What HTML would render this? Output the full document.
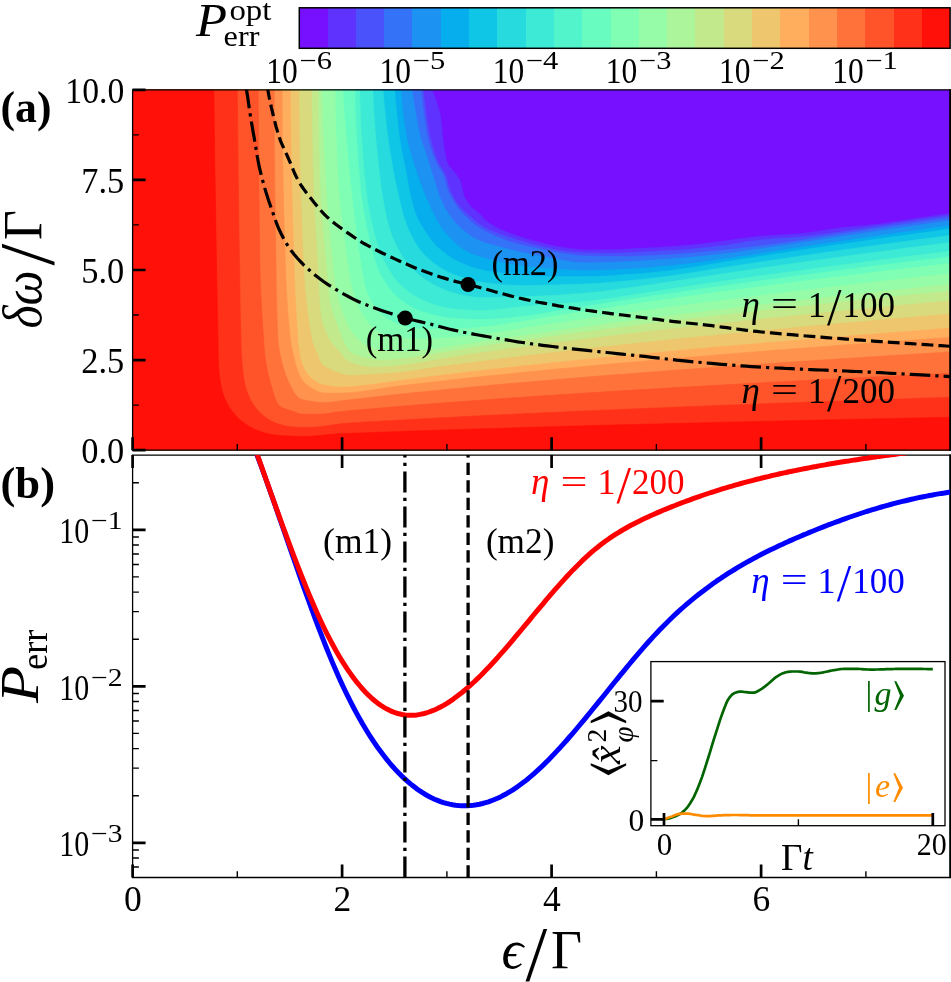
<!DOCTYPE html>
<html><head><meta charset="utf-8"><title>figure</title><style>html,body{margin:0;padding:0;background:#fff}svg{display:block}</style></head><body>
<svg width="951" height="982" viewBox="0 0 951 982" font-family="Liberation Serif, DejaVu Serif, serif">
<rect width="951" height="982" fill="#fff"/>
<defs><clipPath id="ca"><rect x="132.6" y="89.8" width="817.5" height="360.4"/></clipPath>
<clipPath id="cb"><rect x="132.6" y="455.1" width="817.5" height="422.4"/></clipPath></defs>
<g shape-rendering="crispEdges">
<rect x="299.30" y="7.8" width="28.80" height="40.5" fill="#7610ff"/>
<rect x="327.60" y="7.8" width="28.80" height="40.5" fill="#6032fe"/>
<rect x="355.89" y="7.8" width="28.80" height="40.5" fill="#4a53fb"/>
<rect x="384.19" y="7.8" width="28.80" height="40.5" fill="#3473f8"/>
<rect x="412.48" y="7.8" width="28.80" height="40.5" fill="#1c93f3"/>
<rect x="440.78" y="7.8" width="28.80" height="40.5" fill="#06aeed"/>
<rect x="469.07" y="7.8" width="28.80" height="40.5" fill="#10c6e6"/>
<rect x="497.37" y="7.8" width="28.80" height="40.5" fill="#27dade"/>
<rect x="525.67" y="7.8" width="28.80" height="40.5" fill="#3dead5"/>
<rect x="553.96" y="7.8" width="28.80" height="40.5" fill="#52f5cb"/>
<rect x="582.26" y="7.8" width="28.80" height="40.5" fill="#68fcc1"/>
<rect x="610.55" y="7.8" width="28.80" height="40.5" fill="#80ffb4"/>
<rect x="638.85" y="7.8" width="28.80" height="40.5" fill="#96fca7"/>
<rect x="667.14" y="7.8" width="28.80" height="40.5" fill="#acf59a"/>
<rect x="695.44" y="7.8" width="28.80" height="40.5" fill="#c2ea8c"/>
<rect x="723.73" y="7.8" width="28.80" height="40.5" fill="#d9da7d"/>
<rect x="752.03" y="7.8" width="28.80" height="40.5" fill="#eec66d"/>
<rect x="780.33" y="7.8" width="28.80" height="40.5" fill="#ffae5e"/>
<rect x="808.62" y="7.8" width="28.80" height="40.5" fill="#ff934d"/>
<rect x="836.92" y="7.8" width="28.80" height="40.5" fill="#ff733b"/>
<rect x="865.21" y="7.8" width="28.80" height="40.5" fill="#ff532a"/>
<rect x="893.51" y="7.8" width="28.80" height="40.5" fill="#ff3219"/>
<rect x="921.80" y="7.8" width="28.30" height="40.5" fill="#ff1008"/>
</g>
<rect x="299.3" y="7.8" width="650.8" height="40.5" fill="none" stroke="#000" stroke-width="1.5"/>
<text x="266.3" y="82.7" font-size="35.5" textLength="31.5" lengthAdjust="spacingAndGlyphs">10</text>
<text x="299.5" y="69.1" font-size="25.5" textLength="32.5" lengthAdjust="spacingAndGlyphs">−6</text>
<text x="379.5" y="82.7" font-size="35.5" textLength="31.5" lengthAdjust="spacingAndGlyphs">10</text>
<text x="412.7" y="69.1" font-size="25.5" textLength="32.5" lengthAdjust="spacingAndGlyphs">−5</text>
<text x="492.7" y="82.7" font-size="35.5" textLength="31.5" lengthAdjust="spacingAndGlyphs">10</text>
<text x="525.9" y="69.1" font-size="25.5" textLength="32.5" lengthAdjust="spacingAndGlyphs">−4</text>
<text x="605.8" y="82.7" font-size="35.5" textLength="31.5" lengthAdjust="spacingAndGlyphs">10</text>
<text x="639.0" y="69.1" font-size="25.5" textLength="32.5" lengthAdjust="spacingAndGlyphs">−3</text>
<text x="719.0" y="82.7" font-size="35.5" textLength="31.5" lengthAdjust="spacingAndGlyphs">10</text>
<text x="752.2" y="69.1" font-size="25.5" textLength="32.5" lengthAdjust="spacingAndGlyphs">−2</text>
<text x="832.2" y="82.7" font-size="35.5" textLength="31.5" lengthAdjust="spacingAndGlyphs">10</text>
<text x="865.4" y="69.1" font-size="25.5" textLength="32.5" lengthAdjust="spacingAndGlyphs">−1</text>
<text x="196" y="35.8" font-size="47" font-style="italic" textLength="31" lengthAdjust="spacingAndGlyphs">P</text>
<text x="229.4" y="20" font-size="29" textLength="42" lengthAdjust="spacingAndGlyphs">opt</text>
<text x="223.6" y="46.3" font-size="30" textLength="35.8" lengthAdjust="spacingAndGlyphs">err</text>
<g clip-path="url(#ca)">
<rect x="131.6" y="88.8" width="819.5" height="362.4" fill="#7610ff"/>
<polygon points="130.6,87.8 432.0,87.8 432.0,90.0 434.3,95.6 436.4,101.3 438.2,107.1 439.7,112.8 440.8,118.7 441.6,124.6 442.1,130.5 442.6,136.5 443.3,142.5 444.1,148.6 445.1,154.6 446.5,160.4 448.6,165.6 452.7,170.2 456.5,175.0 459.9,179.9 461.5,185.6 462.8,191.6 464.6,197.2 467.6,202.4 471.4,207.2 475.9,211.0 480.7,214.7 484.5,219.4 489.1,223.1 494.3,226.2 499.6,228.9 505.1,231.3 510.7,233.5 516.3,235.5 522.0,237.4 527.8,239.2 533.5,240.8 539.3,242.3 545.1,243.8 551.0,245.2 556.8,246.5 562.7,247.4 568.7,248.3 574.6,249.1 580.6,249.7 586.6,249.9 592.6,249.9 598.6,249.8 604.6,249.8 610.6,249.7 616.6,249.6 622.5,249.3 628.5,249.0 634.5,248.6 640.5,248.3 646.5,248.0 652.5,247.7 658.5,247.4 664.4,247.0 670.4,246.7 676.4,246.3 682.4,245.8 688.3,245.3 694.3,244.6 700.2,243.9 706.2,243.2 712.2,242.5 718.1,241.7 724.0,241.0 730.0,240.2 735.9,239.3 741.9,238.5 747.8,237.7 753.7,236.9 759.7,236.3 765.7,235.9 771.7,235.5 777.6,235.1 783.6,234.8 789.6,234.5 795.6,234.1 801.6,233.6 807.5,232.9 813.4,232.0 819.4,231.1 825.3,230.2 831.2,229.2 837.1,228.4 843.1,227.6 849.0,227.0 855.0,226.4 861.0,225.8 866.9,225.3 872.9,224.6 878.9,224.0 884.8,223.2 890.7,222.3 896.7,221.4 902.6,220.5 908.5,219.6 914.4,218.7 920.4,217.8 926.3,216.9 932.2,216.0 938.1,215.2 944.1,214.3 950.0,213.5 952.1,213.5 952.1,452.2 130.6,452.2" fill="#6032fe" stroke="#6032fe" stroke-width="0.6"/>
<polygon points="130.6,87.8 423.5,87.8 423.5,90.0 424.0,96.0 424.6,101.9 425.4,107.9 426.1,113.8 427.0,119.7 427.9,125.6 428.9,131.5 430.1,137.3 431.6,143.2 433.2,149.0 435.1,154.7 437.2,160.2 439.9,165.5 443.3,170.5 445.9,175.8 447.5,181.6 449.0,187.4 451.2,193.0 454.0,198.3 457.2,203.3 461.0,207.9 465.2,212.2 469.7,216.1 474.3,220.0 479.0,223.8 483.9,227.0 489.2,229.7 494.8,232.0 500.4,234.2 506.0,236.2 511.7,238.1 517.4,239.9 523.1,241.6 528.9,243.2 534.7,244.7 540.5,246.1 546.3,247.6 552.1,249.0 558.0,250.2 563.9,251.0 569.8,251.7 575.8,252.3 581.7,252.7 587.7,252.9 593.7,253.0 599.7,253.1 605.6,253.2 611.6,253.2 617.6,253.1 623.6,252.9 629.5,252.5 635.5,252.2 641.5,251.9 647.5,251.7 653.4,251.4 659.4,251.1 665.4,250.8 671.3,250.5 677.3,250.2 683.3,249.8 689.2,249.3 695.2,248.7 701.1,248.1 707.1,247.5 713.0,246.8 719.0,246.1 724.9,245.4 730.8,244.4 736.7,243.5 742.6,242.5 748.5,241.5 754.4,240.7 760.3,240.0 766.3,239.4 772.2,239.0 778.2,238.6 784.2,238.2 790.2,237.8 796.1,237.3 802.1,236.8 808.0,236.2 813.9,235.5 819.9,234.7 825.8,233.9 831.7,233.1 837.6,232.2 843.5,231.3 849.5,230.4 855.4,229.5 861.3,228.7 867.2,227.8 873.1,226.9 879.0,226.0 884.9,225.1 890.9,224.2 896.8,223.3 902.7,222.5 908.6,221.6 914.5,220.7 920.4,219.8 926.3,219.0 932.3,218.1 938.2,217.3 944.1,216.4 950.0,215.6 952.1,215.6 952.1,452.2 130.6,452.2" fill="#4a53fb" stroke="#4a53fb" stroke-width="0.6"/>
<polygon points="130.6,87.8 421.0,87.8 421.0,90.0 421.6,95.9 422.3,101.9 423.0,107.8 423.8,113.7 424.6,119.6 425.5,125.5 426.4,131.4 427.6,137.2 429.0,143.0 430.7,148.8 432.7,154.5 434.8,160.0 437.4,165.3 440.8,170.4 443.4,175.6 445.1,181.3 446.6,187.2 448.7,192.7 451.5,198.0 454.5,203.1 458.0,208.0 461.7,212.6 466.0,216.9 470.4,220.9 474.9,224.8 479.8,228.2 484.9,231.2 490.3,233.8 495.8,236.2 501.3,238.5 506.9,240.6 512.6,242.5 518.3,244.1 524.0,245.6 529.9,246.9 535.7,248.1 541.6,249.3 547.4,250.6 553.2,251.8 559.1,252.9 565.0,253.8 570.9,254.6 576.8,255.4 582.8,255.9 588.7,256.1 594.7,256.2 600.6,256.3 606.6,256.4 612.6,256.5 618.5,256.5 624.5,256.5 630.5,256.4 636.4,256.2 642.4,256.0 648.4,255.8 654.3,255.5 660.3,255.3 666.2,255.0 672.2,254.7 678.1,254.3 684.1,253.8 690.0,253.3 696.0,252.8 701.9,252.3 707.9,251.8 713.8,251.2 719.7,250.6 725.7,250.0 731.6,249.4 737.5,248.7 743.4,248.0 749.4,247.3 755.3,246.5 761.2,245.8 767.1,245.0 773.0,244.2 778.9,243.5 784.9,242.7 790.8,241.8 796.7,241.0 802.6,240.1 808.4,239.1 814.3,238.1 820.2,237.2 826.1,236.3 832.0,235.4 837.9,234.5 843.8,233.6 849.7,232.7 855.6,231.8 861.5,230.9 867.4,230.0 873.3,229.1 879.2,228.3 885.1,227.4 891.0,226.5 896.9,225.6 902.8,224.8 908.7,223.9 914.6,223.1 920.5,222.2 926.4,221.3 932.3,220.5 938.2,219.6 944.1,218.8 950.0,218.0 952.1,218.0 952.1,452.2 130.6,452.2" fill="#3473f8" stroke="#3473f8" stroke-width="0.6"/>
<polygon points="130.6,87.8 412.0,87.8 412.0,90.0 412.8,95.9 413.7,101.9 414.7,107.8 415.7,113.7 416.7,119.6 417.8,125.5 419.0,131.4 420.4,137.2 422.1,142.9 424.2,148.5 426.1,154.2 428.0,159.9 429.8,165.6 431.5,171.4 433.3,177.1 435.1,182.8 436.8,188.6 438.7,194.2 440.9,199.8 443.5,205.2 446.3,210.5 449.5,215.6 453.1,220.4 457.1,224.8 461.6,228.9 466.2,232.7 471.0,236.3 476.2,239.3 481.7,241.7 487.3,243.6 493.1,245.2 498.9,246.7 504.7,248.2 510.5,249.7 516.4,251.2 522.2,252.5 528.1,253.7 533.9,254.9 539.8,256.0 545.7,257.1 551.6,258.2 557.6,259.4 563.5,260.6 569.4,261.5 575.3,262.3 581.3,262.8 587.2,262.9 593.2,262.8 599.2,262.7 605.2,262.5 611.2,262.3 617.2,262.1 623.2,261.9 629.2,261.6 635.2,261.3 641.1,261.0 647.1,260.6 653.1,260.2 659.1,259.8 665.1,259.4 671.0,259.0 677.0,258.5 683.0,258.0 689.0,257.5 694.9,257.0 700.9,256.4 706.8,255.8 712.8,255.1 718.7,254.5 724.7,253.7 730.6,253.0 736.6,252.2 742.5,251.4 748.5,250.6 754.4,249.7 760.3,248.9 766.3,248.0 772.2,247.2 778.1,246.3 784.1,245.4 790.0,244.5 795.9,243.6 801.8,242.6 807.7,241.7 813.7,240.8 819.6,239.9 825.5,239.0 831.4,238.1 837.3,237.2 843.3,236.3 849.2,235.4 855.1,234.5 861.0,233.6 867.0,232.7 872.9,231.9 878.8,231.0 884.8,230.1 890.7,229.3 896.6,228.4 902.5,227.5 908.5,226.7 914.4,225.8 920.3,225.0 926.3,224.1 932.2,223.3 938.1,222.4 944.1,221.6 950.0,220.8 952.1,220.8 952.1,452.2 130.6,452.2" fill="#1c93f3" stroke="#1c93f3" stroke-width="0.6"/>
<polygon points="130.6,87.8 401.0,87.8 401.0,90.0 401.3,96.0 401.8,101.9 402.3,107.9 403.0,113.8 403.7,119.7 404.5,125.6 405.4,131.5 406.6,137.4 407.8,143.2 409.2,149.0 410.8,154.8 412.6,160.5 414.4,166.2 416.2,171.9 418.2,177.5 420.3,183.1 422.4,188.7 424.6,194.2 426.9,199.7 429.3,205.2 431.8,210.6 434.5,216.0 437.2,221.3 440.3,226.4 443.8,231.2 447.8,235.7 451.9,240.0 456.2,244.2 460.9,247.9 465.9,251.1 471.2,253.9 476.8,256.0 482.5,257.8 488.3,259.3 494.1,260.8 499.9,262.1 505.7,263.4 511.6,264.4 517.5,265.3 523.4,266.2 529.3,266.9 535.3,267.6 541.2,268.1 547.1,268.6 553.1,269.0 559.1,269.4 565.0,269.8 571.0,270.1 577.0,270.4 582.9,270.5 588.9,270.5 594.9,270.4 600.8,270.2 606.8,270.0 612.8,269.8 618.7,269.6 624.7,269.3 630.6,269.0 636.6,268.6 642.6,268.1 648.5,267.7 654.5,267.2 660.4,266.6 666.3,266.1 672.3,265.5 678.2,264.9 684.1,264.2 690.1,263.5 696.0,262.8 701.9,262.0 707.8,261.2 713.8,260.4 719.7,259.6 725.6,258.7 731.5,257.9 737.4,257.0 743.3,256.2 749.2,255.3 755.1,254.3 761.0,253.4 766.9,252.4 772.8,251.5 778.7,250.6 784.6,249.7 790.5,248.8 796.4,247.9 802.3,247.0 808.2,246.1 814.1,245.2 820.0,244.3 825.9,243.4 831.8,242.5 837.7,241.7 843.6,240.8 849.5,239.9 855.4,239.1 861.3,238.2 867.3,237.3 873.2,236.5 879.1,235.6 885.0,234.8 890.9,233.9 896.8,233.1 902.7,232.3 908.6,231.4 914.5,230.6 920.4,229.8 926.3,228.9 932.3,228.1 938.2,227.3 944.1,226.5 950.0,225.7 952.1,225.7 952.1,452.2 130.6,452.2" fill="#06aeed" stroke="#06aeed" stroke-width="0.6"/>
<polygon points="130.6,87.8 394.7,87.8 394.7,90.0 395.1,96.0 395.6,101.9 396.2,107.9 396.8,113.8 397.4,119.8 398.0,125.7 398.7,131.7 399.5,137.6 400.4,143.5 401.5,149.4 402.7,155.3 403.9,161.1 405.1,167.0 406.2,172.9 407.3,178.8 408.3,184.7 409.4,190.6 410.7,196.4 412.1,202.2 413.7,208.0 415.6,213.7 417.9,219.2 420.7,224.4 423.9,229.6 427.2,234.5 430.8,239.4 434.6,244.0 438.8,248.2 443.4,252.1 448.2,255.7 453.3,258.9 458.5,261.8 464.0,264.3 469.5,266.4 475.3,268.3 481.0,269.7 486.9,270.9 492.8,271.9 498.7,272.8 504.7,273.6 510.6,274.3 516.6,274.9 522.5,275.4 528.5,275.9 534.5,276.3 540.5,276.5 546.4,276.5 552.4,276.5 558.4,276.6 564.4,276.6 570.4,276.6 576.4,276.6 582.3,276.6 588.3,276.6 594.3,276.5 600.3,276.2 606.3,275.9 612.2,275.5 618.2,275.1 624.2,274.7 630.2,274.3 636.1,273.9 642.1,273.4 648.1,272.9 654.0,272.3 660.0,271.7 665.9,271.1 671.8,270.4 677.8,269.6 683.7,268.7 689.6,267.8 695.5,266.9 701.4,265.9 707.3,264.9 713.2,263.9 719.1,262.9 725.0,261.9 730.9,261.0 736.9,260.0 742.8,259.1 748.7,258.2 754.6,257.3 760.5,256.3 766.4,255.4 772.3,254.5 778.2,253.6 784.2,252.7 790.1,251.8 796.0,250.9 801.9,250.0 807.8,249.1 813.7,248.3 819.7,247.4 825.6,246.5 831.5,245.6 837.4,244.8 843.3,243.9 849.3,243.1 855.2,242.2 861.1,241.4 867.0,240.5 873.0,239.7 878.9,238.8 884.8,238.0 890.7,237.1 896.7,236.3 902.6,235.5 908.5,234.7 914.4,233.8 920.4,233.0 926.3,232.2 932.2,231.4 938.1,230.6 944.1,229.8 950.0,229.0 952.1,229.0 952.1,452.2 130.6,452.2" fill="#10c6e6" stroke="#10c6e6" stroke-width="0.6"/>
<polygon points="130.6,87.8 383.1,87.8 383.1,90.0 383.5,95.9 384.0,101.9 384.6,107.8 385.2,113.7 385.8,119.7 386.4,125.6 387.1,131.5 387.9,137.4 388.7,143.3 389.6,149.2 390.6,155.0 391.6,160.9 392.6,166.8 393.7,172.6 394.8,178.5 396.0,184.3 397.3,190.1 398.6,196.0 399.9,201.7 401.3,207.6 402.8,213.3 404.6,219.0 406.6,224.6 408.8,230.2 411.3,235.6 414.1,240.8 417.2,245.9 420.9,250.7 424.8,255.2 429.0,259.3 433.6,263.1 438.5,266.6 443.6,269.7 448.9,272.4 454.4,274.8 460.0,276.8 465.6,278.6 471.4,280.3 477.2,281.6 483.1,282.4 489.0,283.2 494.9,283.9 500.8,284.5 506.8,285.0 512.7,285.3 518.7,285.5 524.6,285.5 530.6,285.4 536.5,285.4 542.5,285.3 548.5,285.1 554.4,285.0 560.4,284.8 566.3,284.6 572.3,284.4 578.2,284.2 584.2,284.0 590.1,283.7 596.1,283.4 602.0,283.0 607.9,282.5 613.9,282.0 619.8,281.5 625.7,281.0 631.7,280.4 637.6,279.8 643.5,279.2 649.4,278.5 655.4,277.8 661.3,277.1 667.2,276.3 673.1,275.5 679.0,274.7 684.8,273.8 690.7,272.9 696.6,272.0 702.5,271.1 708.4,270.1 714.2,269.1 720.1,268.2 726.0,267.2 731.9,266.3 737.8,265.4 743.7,264.5 749.5,263.6 755.4,262.7 761.3,261.8 767.2,260.9 773.1,260.1 779.0,259.2 784.9,258.3 790.8,257.5 796.7,256.6 802.5,255.7 808.4,254.9 814.3,254.0 820.2,253.2 826.1,252.3 832.0,251.5 837.9,250.7 843.8,249.8 849.7,249.0 855.6,248.2 861.5,247.3 867.4,246.5 873.3,245.7 879.2,244.9 885.1,244.1 891.0,243.3 896.9,242.5 902.8,241.7 908.7,240.9 914.6,240.1 920.5,239.3 926.4,238.5 932.3,237.7 938.2,236.9 944.1,236.1 950.0,235.4 952.1,235.4 952.1,452.2 130.6,452.2" fill="#27dade" stroke="#27dade" stroke-width="0.6"/>
<polygon points="130.6,87.8 373.0,87.8 373.0,90.0 373.2,96.0 373.4,102.0 373.7,108.0 374.0,113.9 374.4,119.9 374.9,125.9 375.3,131.8 375.8,137.8 376.4,143.7 377.0,149.7 377.6,155.6 378.2,161.6 378.8,167.5 379.5,173.4 380.1,179.3 380.9,185.3 381.7,191.2 382.7,197.1 383.7,203.0 384.8,208.9 386.0,214.7 387.3,220.5 388.9,226.3 390.7,232.0 392.7,237.6 395.1,243.1 397.8,248.5 400.8,253.7 404.0,258.7 407.6,263.4 411.6,267.9 415.9,272.2 420.4,276.0 425.2,279.6 430.3,282.8 435.6,285.7 441.0,288.2 446.5,290.5 452.2,292.5 457.9,294.2 463.8,295.4 469.7,296.5 475.6,297.3 481.6,297.5 487.5,297.5 493.5,297.4 499.5,297.3 505.5,297.2 511.4,297.0 517.4,296.9 523.4,296.7 529.4,296.5 535.3,296.3 541.3,296.0 547.3,295.7 553.2,295.3 559.2,295.0 565.2,294.6 571.1,294.1 577.1,293.7 583.0,293.2 589.0,292.7 594.9,292.1 600.9,291.5 606.8,290.7 612.7,290.0 618.7,289.2 624.6,288.4 630.5,287.6 636.4,286.8 642.3,285.9 648.3,285.0 654.2,284.2 660.1,283.3 666.0,282.4 671.9,281.5 677.8,280.6 683.7,279.7 689.6,278.8 695.5,277.9 701.4,277.0 707.3,276.1 713.2,275.2 719.1,274.3 725.1,273.4 731.0,272.5 736.9,271.6 742.8,270.8 748.7,269.9 754.6,269.0 760.5,268.2 766.4,267.3 772.4,266.5 778.3,265.6 784.2,264.8 790.1,263.9 796.0,263.1 801.9,262.3 807.9,261.4 813.8,260.6 819.7,259.8 825.6,259.0 831.5,258.1 837.4,257.3 843.4,256.5 849.3,255.7 855.2,254.9 861.1,254.1 867.1,253.3 873.0,252.5 878.9,251.7 884.8,250.9 890.7,250.2 896.7,249.4 902.6,248.6 908.5,247.8 914.4,247.0 920.4,246.3 926.3,245.5 932.2,244.7 938.1,244.0 944.1,243.2 950.0,242.5 952.1,242.5 952.1,452.2 130.6,452.2" fill="#3dead5" stroke="#3dead5" stroke-width="0.6"/>
<polygon points="130.6,87.8 359.9,87.8 359.9,90.0 359.9,96.0 360.0,102.0 360.2,108.0 360.4,114.0 360.6,119.9 360.9,125.9 361.2,131.9 361.6,137.8 362.0,143.7 362.4,149.7 362.8,155.6 363.3,161.5 363.8,167.4 364.3,173.3 364.8,179.2 365.4,185.1 366.1,191.0 366.9,197.0 367.8,202.9 368.9,208.8 370.0,214.7 371.2,220.6 372.6,226.5 374.0,232.3 375.6,238.1 377.2,243.7 378.9,249.3 380.8,254.9 383.5,260.2 386.4,265.4 389.4,270.6 392.6,275.7 396.2,280.4 400.2,284.7 404.7,288.8 409.4,292.5 414.3,295.9 419.5,298.8 424.9,301.2 430.4,303.4 436.1,305.4 441.9,307.0 447.8,308.2 453.6,308.9 459.5,309.5 465.5,309.9 471.5,310.3 477.4,310.5 483.4,310.5 489.3,310.2 495.2,309.7 501.2,309.1 507.1,308.4 513.0,307.7 519.0,307.1 524.9,306.6 530.8,306.1 536.8,305.6 542.7,305.2 548.7,304.7 554.6,304.2 560.5,303.8 566.5,303.3 572.4,302.7 578.3,302.2 584.2,301.6 590.2,300.9 596.1,300.2 602.0,299.5 607.9,298.7 613.8,297.9 619.6,297.0 625.5,296.1 631.4,295.2 637.3,294.2 643.2,293.3 649.1,292.3 655.0,291.4 660.8,290.4 666.7,289.5 672.6,288.6 678.5,287.7 684.4,286.8 690.3,285.9 696.2,285.1 702.1,284.2 708.0,283.4 713.9,282.5 719.7,281.6 725.6,280.8 731.5,280.0 737.4,279.1 743.3,278.3 749.2,277.5 755.1,276.6 761.0,275.8 766.9,275.0 772.8,274.2 778.7,273.4 784.6,272.6 790.5,271.8 796.4,271.0 802.3,270.2 808.2,269.4 814.1,268.6 820.0,267.8 825.9,267.0 831.8,266.2 837.7,265.5 843.7,264.7 849.6,263.9 855.5,263.2 861.4,262.4 867.3,261.6 873.2,260.9 879.1,260.1 885.0,259.4 890.9,258.6 896.8,257.9 902.7,257.1 908.6,256.4 914.5,255.6 920.4,254.9 926.4,254.2 932.3,253.5 938.2,252.7 944.1,252.0 950.0,251.3 952.1,251.3 952.1,452.2 130.6,452.2" fill="#52f5cb" stroke="#52f5cb" stroke-width="0.6"/>
<polygon points="130.6,87.8 354.9,87.8 354.9,90.0 354.9,96.0 355.0,102.0 355.2,108.0 355.3,114.0 355.6,120.0 355.9,126.0 356.2,132.0 356.5,138.0 356.9,143.9 357.3,149.9 357.8,155.8 358.2,161.8 358.7,167.7 359.2,173.6 359.7,179.6 360.2,185.5 360.8,191.4 361.6,197.4 362.4,203.3 363.3,209.3 364.4,215.2 365.5,221.1 366.6,227.1 367.9,232.9 369.2,238.8 370.7,244.6 372.2,250.4 373.7,256.1 375.4,261.8 377.2,267.4 379.7,272.9 382.5,278.2 385.7,283.2 389.2,288.1 392.9,292.8 397.2,297.0 401.9,300.6 406.8,304.1 412.0,307.3 417.3,310.0 422.8,312.0 428.5,313.7 434.3,315.3 440.3,316.6 446.2,317.6 452.1,318.2 458.1,318.6 464.0,319.0 470.0,319.3 476.0,319.5 482.0,319.5 488.0,319.3 493.9,319.0 499.9,318.6 505.9,318.1 511.8,317.5 517.8,316.8 523.7,316.1 529.7,315.5 535.6,314.7 541.5,313.7 547.4,312.7 553.3,311.6 559.1,310.6 565.0,309.6 570.9,308.6 576.9,307.7 582.8,306.7 588.7,305.8 594.6,304.9 600.5,303.9 606.4,303.0 612.3,302.1 618.2,301.2 624.1,300.3 630.0,299.4 635.9,298.5 641.8,297.6 647.7,296.7 653.7,295.8 659.6,295.0 665.5,294.1 671.4,293.2 677.3,292.4 683.2,291.5 689.2,290.6 695.1,289.8 701.0,289.0 706.9,288.1 712.8,287.3 718.7,286.5 724.7,285.6 730.6,284.8 736.5,284.0 742.4,283.2 748.4,282.4 754.3,281.6 760.2,280.8 766.1,280.0 772.1,279.2 778.0,278.4 783.9,277.6 789.8,276.8 795.8,276.0 801.7,275.2 807.6,274.5 813.5,273.7 819.5,272.9 825.4,272.2 831.3,271.4 837.3,270.6 843.2,269.9 849.1,269.1 855.1,268.4 861.0,267.6 866.9,266.9 872.8,266.1 878.8,265.4 884.7,264.7 890.6,263.9 896.6,263.2 902.5,262.5 908.5,261.8 914.4,261.0 920.3,260.3 926.3,259.6 932.2,258.9 938.1,258.2 944.1,257.5 950.0,256.8 952.1,256.8 952.1,452.2 130.6,452.2" fill="#68fcc1" stroke="#68fcc1" stroke-width="0.6"/>
<polygon points="130.6,87.8 342.7,87.8 342.7,90.0 343.1,96.0 343.5,101.9 343.9,107.9 344.3,113.9 344.8,119.8 345.2,125.8 345.7,131.7 346.2,137.7 346.7,143.6 347.3,149.6 347.8,155.5 348.4,161.5 349.0,167.4 349.5,173.4 350.1,179.3 350.7,185.2 351.4,191.2 352.0,197.1 352.7,203.1 353.3,209.0 354.1,214.9 354.8,220.9 355.5,226.8 356.3,232.7 357.1,238.7 358.0,244.6 358.8,250.5 359.7,256.4 360.7,262.3 361.6,268.2 362.6,274.1 363.7,280.1 365.0,285.9 366.7,291.5 369.0,297.1 371.9,302.5 375.2,307.6 378.9,312.0 383.3,316.0 388.4,319.6 393.7,322.5 399.1,324.5 404.8,326.4 410.8,327.9 416.7,328.9 422.6,329.0 428.6,329.0 434.5,328.9 440.5,328.8 446.5,328.7 452.5,328.5 458.5,328.4 464.5,328.2 470.5,328.0 476.4,327.7 482.3,327.1 488.3,326.5 494.2,325.7 500.1,324.8 506.1,323.9 512.0,322.9 517.9,322.1 523.8,321.2 529.7,320.2 535.6,319.3 541.5,318.3 547.4,317.3 553.3,316.3 559.2,315.4 565.1,314.5 571.0,313.5 576.9,312.6 582.8,311.7 588.7,310.8 594.6,309.9 600.5,309.0 606.4,308.1 612.3,307.2 618.2,306.3 624.1,305.5 630.0,304.6 636.0,303.7 641.9,302.9 647.8,302.0 653.7,301.2 659.6,300.3 665.5,299.5 671.4,298.7 677.4,297.8 683.3,297.0 689.2,296.2 695.1,295.4 701.0,294.5 706.9,293.7 712.9,292.9 718.8,292.1 724.7,291.3 730.6,290.5 736.5,289.7 742.5,289.0 748.4,288.2 754.3,287.4 760.2,286.6 766.2,285.9 772.1,285.1 778.0,284.3 783.9,283.6 789.9,282.8 795.8,282.0 801.7,281.3 807.6,280.5 813.6,279.8 819.5,279.1 825.4,278.3 831.4,277.6 837.3,276.9 843.2,276.1 849.1,275.4 855.1,274.7 861.0,274.0 866.9,273.2 872.9,272.5 878.8,271.8 884.7,271.1 890.7,270.4 896.6,269.7 902.5,269.0 908.5,268.3 914.4,267.6 920.3,266.9 926.3,266.2 932.2,265.5 938.1,264.8 944.1,264.2 950.0,263.5 952.1,263.5 952.1,452.2 130.6,452.2" fill="#80ffb4" stroke="#80ffb4" stroke-width="0.6"/>
<polygon points="130.6,87.8 335.1,87.8 335.1,90.0 335.1,96.0 335.2,102.0 335.3,108.0 335.4,114.0 335.5,120.0 335.7,126.0 335.9,132.0 336.1,138.0 336.4,144.0 336.6,150.0 336.9,156.0 337.2,162.0 337.5,168.0 337.8,173.9 338.1,179.9 338.4,185.9 338.9,191.9 339.4,197.8 339.9,203.8 340.6,209.8 341.2,215.7 342.0,221.7 342.7,227.7 343.5,233.6 344.3,239.6 345.2,245.5 346.0,251.5 346.8,257.4 347.7,263.3 348.5,269.3 349.4,275.3 350.4,281.2 351.6,287.0 353.3,292.8 355.2,298.6 357.4,304.3 359.8,309.7 362.5,314.9 365.9,320.0 369.8,324.8 374.1,328.7 379.1,332.0 384.7,334.7 390.4,336.1 396.2,337.1 402.2,337.9 408.2,338.5 414.3,338.9 420.3,339.0 426.3,338.9 432.3,338.7 438.3,338.4 444.3,338.1 450.3,337.6 456.3,337.2 462.3,336.7 468.2,336.1 474.2,335.6 480.2,334.9 486.1,334.1 492.0,333.3 498.0,332.3 503.9,331.3 509.8,330.4 515.7,329.4 521.7,328.5 527.6,327.6 533.5,326.7 539.5,325.8 545.4,324.9 551.3,323.9 557.2,323.1 563.2,322.2 569.1,321.3 575.0,320.4 581.0,319.5 586.9,318.7 592.9,317.8 598.8,317.0 604.7,316.1 610.7,315.3 616.6,314.4 622.5,313.6 628.5,312.8 634.4,312.0 640.4,311.1 646.3,310.3 652.3,309.5 658.2,308.7 664.1,307.9 670.1,307.1 676.0,306.3 682.0,305.5 687.9,304.8 693.9,304.0 699.8,303.2 705.8,302.4 711.7,301.7 717.7,300.9 723.6,300.2 729.6,299.4 735.5,298.6 741.5,297.9 747.4,297.2 753.4,296.4 759.3,295.7 765.3,294.9 771.2,294.2 777.2,293.5 783.1,292.8 789.1,292.0 795.1,291.3 801.0,290.6 807.0,289.9 812.9,289.2 818.9,288.5 824.8,287.8 830.8,287.1 836.7,286.4 842.7,285.7 848.7,285.0 854.6,284.3 860.6,283.6 866.5,283.0 872.5,282.3 878.5,281.6 884.4,280.9 890.4,280.3 896.3,279.6 902.3,278.9 908.3,278.3 914.2,277.6 920.2,276.9 926.1,276.3 932.1,275.6 938.1,275.0 944.0,274.3 950.0,273.7 952.1,273.7 952.1,452.2 130.6,452.2" fill="#96fca7" stroke="#96fca7" stroke-width="0.6"/>
<polygon points="130.6,87.8 321.7,87.8 321.7,90.0 321.8,96.0 322.0,102.0 322.2,107.9 322.4,113.9 322.6,119.9 322.8,125.8 323.0,131.8 323.3,137.8 323.6,143.7 323.9,149.7 324.2,155.7 324.5,161.6 324.8,167.6 325.1,173.6 325.5,179.5 325.8,185.5 326.2,191.4 326.6,197.4 327.1,203.3 327.6,209.3 328.1,215.3 328.6,221.2 329.1,227.2 329.7,233.1 330.3,239.1 330.8,245.0 331.4,251.0 332.0,256.9 332.6,262.8 333.2,268.8 333.7,274.8 334.4,280.7 335.3,286.6 336.4,292.4 337.9,298.3 339.5,304.1 341.4,309.8 343.3,315.3 345.7,321.0 348.4,326.5 351.5,331.7 354.9,336.2 359.1,340.4 364.1,344.4 369.4,347.5 374.8,349.2 380.5,350.2 386.5,351.1 392.6,351.7 398.7,352.0 404.6,351.9 410.6,351.7 416.5,351.2 422.4,350.7 428.4,350.0 434.3,349.2 440.2,348.3 446.2,347.4 452.1,346.5 458.0,345.5 464.0,344.6 469.9,343.8 475.8,342.9 481.7,342.0 487.6,341.1 493.5,340.1 499.4,339.2 505.3,338.3 511.2,337.4 517.1,336.6 523.0,335.7 528.9,334.8 534.9,334.0 540.8,333.1 546.7,332.3 552.6,331.4 558.5,330.6 564.4,329.8 570.3,328.9 576.3,328.1 582.2,327.3 588.1,326.5 594.0,325.7 599.9,324.9 605.8,324.1 611.8,323.3 617.7,322.5 623.6,321.8 629.5,321.0 635.5,320.2 641.4,319.4 647.3,318.7 653.2,317.9 659.2,317.2 665.1,316.4 671.0,315.7 676.9,314.9 682.9,314.2 688.8,313.5 694.7,312.8 700.7,312.0 706.6,311.3 712.5,310.6 718.4,309.9 724.4,309.2 730.3,308.5 736.2,307.8 742.2,307.1 748.1,306.4 754.0,305.7 760.0,305.0 765.9,304.3 771.8,303.6 777.8,302.9 783.7,302.3 789.6,301.6 795.6,300.9 801.5,300.2 807.4,299.6 813.4,298.9 819.3,298.3 825.3,297.6 831.2,296.9 837.1,296.3 843.1,295.6 849.0,295.0 854.9,294.4 860.9,293.7 866.8,293.1 872.8,292.4 878.7,291.8 884.6,291.2 890.6,290.5 896.5,289.9 902.5,289.3 908.4,288.7 914.3,288.1 920.3,287.4 926.2,286.8 932.2,286.2 938.1,285.6 944.1,285.0 950.0,284.4 952.1,284.4 952.1,452.2 130.6,452.2" fill="#acf59a" stroke="#acf59a" stroke-width="0.6"/>
<polygon points="130.6,87.8 318.3,87.8 318.3,90.0 318.3,96.0 318.3,102.0 318.4,107.9 318.4,113.9 318.5,119.9 318.6,125.8 318.7,131.8 318.8,137.8 318.9,143.8 319.0,149.7 319.1,155.7 319.2,161.6 319.4,167.6 319.5,173.6 319.7,179.5 319.9,185.5 320.1,191.5 320.4,197.4 320.8,203.4 321.2,209.3 321.7,215.3 322.1,221.2 322.7,227.2 323.2,233.1 323.7,239.1 324.3,245.0 324.8,251.0 325.4,256.9 325.9,262.9 326.4,268.8 326.9,274.8 327.4,280.8 327.9,286.8 328.6,292.7 329.3,298.5 330.4,304.4 331.9,310.2 333.7,315.9 335.7,321.6 337.9,327.2 340.1,332.9 342.5,339.2 345.2,345.1 348.3,350.1 351.9,353.2 356.5,355.4 362.3,357.3 368.6,358.8 375.0,359.7 381.1,360.0 386.9,359.9 392.8,359.6 398.7,359.1 404.6,358.5 410.5,357.8 416.5,356.9 422.4,356.0 428.3,355.1 434.3,354.0 440.2,353.0 446.2,352.0 452.1,350.9 458.0,349.9 464.0,349.0 469.9,348.1 475.8,347.2 481.7,346.4 487.6,345.5 493.5,344.6 499.4,343.7 505.3,342.9 511.2,342.0 517.1,341.2 523.0,340.3 528.9,339.5 534.9,338.7 540.8,337.9 546.7,337.0 552.6,336.2 558.5,335.4 564.4,334.6 570.4,333.8 576.3,333.1 582.2,332.3 588.1,331.5 594.0,330.7 599.9,330.0 605.9,329.2 611.8,328.5 617.7,327.7 623.6,327.0 629.6,326.2 635.5,325.5 641.4,324.7 647.3,324.0 653.3,323.3 659.2,322.6 665.1,321.8 671.0,321.1 677.0,320.4 682.9,319.7 688.8,319.0 694.7,318.3 700.7,317.6 706.6,316.9 712.5,316.2 718.5,315.5 724.4,314.9 730.3,314.2 736.3,313.5 742.2,312.8 748.1,312.2 754.1,311.5 760.0,310.8 765.9,310.2 771.9,309.5 777.8,308.9 783.7,308.2 789.7,307.6 795.6,306.9 801.5,306.3 807.5,305.7 813.4,305.0 819.3,304.4 825.3,303.8 831.2,303.1 837.1,302.5 843.1,301.9 849.0,301.3 855.0,300.7 860.9,300.0 866.8,299.4 872.8,298.8 878.7,298.2 884.7,297.6 890.6,297.0 896.5,296.4 902.5,295.8 908.4,295.2 914.4,294.6 920.3,294.0 926.2,293.4 932.2,292.8 938.1,292.3 944.1,291.7 950.0,291.1 952.1,291.1 952.1,452.2 130.6,452.2" fill="#c2ea8c" stroke="#c2ea8c" stroke-width="0.6"/>
<polygon points="130.6,87.8 311.6,87.8 311.6,90.0 311.6,96.0 311.6,102.0 311.7,108.0 311.8,114.0 311.8,120.0 311.9,125.9 312.0,131.9 312.2,137.9 312.3,143.9 312.4,149.9 312.6,155.9 312.7,161.9 312.9,167.9 313.0,173.8 313.2,179.8 313.4,185.8 313.6,191.8 313.8,197.8 314.1,203.8 314.4,209.7 314.7,215.7 315.0,221.7 315.4,227.7 315.7,233.7 316.1,239.6 316.5,245.6 316.8,251.6 317.2,257.6 317.5,263.6 317.8,269.6 318.1,275.6 318.4,281.6 318.7,287.6 319.0,293.7 319.4,299.6 319.8,305.6 320.4,311.4 321.2,317.3 322.6,323.2 324.5,329.1 326.9,334.7 329.4,339.9 332.9,344.6 337.2,348.9 341.1,353.6 344.6,358.8 349.0,361.6 354.4,363.7 360.5,365.5 366.8,366.7 372.9,367.2 378.8,367.1 384.7,366.9 390.6,366.5 396.5,365.9 402.4,365.3 408.4,364.5 414.3,363.6 420.3,362.6 426.2,361.6 432.2,360.6 438.1,359.5 444.1,358.5 450.1,357.4 456.0,356.4 462.0,355.4 467.9,354.5 473.8,353.7 479.8,352.9 485.7,352.1 491.6,351.2 497.6,350.4 503.5,349.6 509.4,348.8 515.4,348.0 521.3,347.2 527.2,346.4 533.2,345.6 539.1,344.9 545.1,344.1 551.0,343.3 556.9,342.6 562.9,341.8 568.8,341.1 574.8,340.3 580.7,339.6 586.7,338.9 592.6,338.1 598.5,337.4 604.5,336.7 610.4,336.0 616.4,335.3 622.3,334.6 628.3,333.8 634.2,333.2 640.2,332.5 646.1,331.8 652.1,331.1 658.0,330.4 664.0,329.7 669.9,329.0 675.9,328.4 681.8,327.7 687.8,327.0 693.7,326.4 699.7,325.7 705.7,325.1 711.6,324.4 717.6,323.8 723.5,323.1 729.5,322.5 735.4,321.9 741.4,321.2 747.3,320.6 753.3,320.0 759.2,319.3 765.2,318.7 771.2,318.1 777.1,317.5 783.1,316.9 789.0,316.3 795.0,315.7 801.0,315.0 806.9,314.4 812.9,313.8 818.8,313.3 824.8,312.7 830.8,312.1 836.7,311.5 842.7,310.9 848.6,310.3 854.6,309.7 860.6,309.1 866.5,308.6 872.5,308.0 878.4,307.4 884.4,306.8 890.4,306.3 896.3,305.7 902.3,305.1 908.3,304.6 914.2,304.0 920.2,303.5 926.1,302.9 932.1,302.4 938.1,301.8 944.0,301.3 950.0,300.7 952.1,300.7 952.1,452.2 130.6,452.2" fill="#d9da7d" stroke="#d9da7d" stroke-width="0.6"/>
<polygon points="130.6,87.8 298.9,87.8 298.9,90.0 298.9,96.0 298.9,102.0 299.0,108.0 299.0,114.0 299.1,120.0 299.1,126.0 299.2,132.0 299.3,138.0 299.4,144.0 299.5,150.0 299.6,156.0 299.8,162.0 299.9,168.0 300.1,174.0 300.2,180.0 300.4,186.0 300.6,192.0 300.8,198.0 301.0,203.9 301.2,209.9 301.4,215.9 301.6,221.9 301.8,227.8 302.1,233.8 302.3,239.8 302.6,245.8 302.8,251.7 303.1,257.7 303.3,263.7 303.6,269.7 304.0,275.7 304.4,281.7 304.8,287.7 305.3,293.7 305.9,299.7 306.6,305.7 307.3,311.7 308.1,317.7 309.0,323.6 309.9,329.4 311.0,335.3 312.1,341.0 314.1,346.7 316.5,352.2 318.6,358.2 321.2,363.3 325.2,366.8 330.7,369.7 336.7,372.2 342.4,374.3 348.2,375.5 354.0,375.4 360.0,375.2 366.0,375.0 372.0,374.6 378.0,374.2 384.0,373.8 390.1,373.3 396.1,372.8 402.0,372.2 408.0,371.5 413.9,370.7 419.8,369.7 425.7,368.8 431.7,367.9 437.6,367.1 443.5,366.3 449.5,365.5 455.4,364.7 461.4,363.9 467.3,363.2 473.2,362.4 479.2,361.6 485.1,360.9 491.1,360.1 497.0,359.4 502.9,358.6 508.9,357.9 514.8,357.2 520.8,356.4 526.7,355.7 532.7,355.0 538.6,354.3 544.6,353.6 550.5,352.9 556.5,352.2 562.4,351.5 568.4,350.8 574.3,350.2 580.3,349.5 586.2,348.8 592.2,348.2 598.2,347.5 604.1,346.8 610.1,346.2 616.0,345.5 622.0,344.9 627.9,344.3 633.9,343.6 639.8,343.0 645.8,342.4 651.8,341.7 657.7,341.1 663.7,340.5 669.6,339.9 675.6,339.3 681.6,338.6 687.5,338.0 693.5,337.4 699.4,336.8 705.4,336.2 711.4,335.7 717.3,335.1 723.3,334.5 729.2,333.9 735.2,333.3 741.2,332.7 747.1,332.2 753.1,331.6 759.1,331.0 765.0,330.4 771.0,329.9 776.9,329.3 782.9,328.8 788.9,328.2 794.8,327.6 800.8,327.1 806.8,326.5 812.7,326.0 818.7,325.5 824.7,324.9 830.6,324.4 836.6,323.8 842.6,323.3 848.5,322.8 854.5,322.2 860.5,321.7 866.4,321.2 872.4,320.7 878.4,320.1 884.3,319.6 890.3,319.1 896.3,318.6 902.2,318.1 908.2,317.6 914.2,317.0 920.2,316.5 926.1,316.0 932.1,315.5 938.1,315.0 944.0,314.5 950.0,314.0 952.1,314.0 952.1,452.2 130.6,452.2" fill="#eec66d" stroke="#eec66d" stroke-width="0.6"/>
<polygon points="130.6,87.8 290.5,87.8 290.5,90.0 290.5,96.0 290.5,102.0 290.6,108.0 290.6,114.0 290.6,120.0 290.7,126.0 290.8,132.0 290.9,138.0 290.9,144.0 291.0,150.0 291.1,156.0 291.3,161.9 291.4,167.9 291.5,173.9 291.6,179.9 291.8,185.9 291.9,191.9 292.1,197.9 292.2,203.9 292.4,209.9 292.5,215.9 292.7,221.9 292.9,227.9 293.1,233.8 293.2,239.8 293.4,245.8 293.6,251.8 293.8,257.8 294.0,263.8 294.2,269.8 294.4,275.8 294.6,281.8 294.8,287.8 295.1,293.8 295.4,299.8 295.7,305.7 296.0,311.7 296.3,317.7 296.7,323.7 297.1,329.7 297.6,335.6 298.0,341.6 298.6,347.6 299.4,353.6 300.5,359.4 302.4,365.3 305.0,370.7 308.3,375.4 312.9,379.8 318.1,383.2 323.4,384.9 329.3,386.1 335.5,386.9 341.5,387.1 347.4,386.9 353.4,386.5 359.3,386.0 365.3,385.3 371.3,384.5 377.2,383.7 383.2,382.8 389.2,382.0 395.1,381.2 401.1,380.4 407.0,379.7 413.0,378.9 418.9,378.2 424.9,377.4 430.8,376.6 436.8,375.9 442.7,375.2 448.7,374.5 454.6,373.7 460.6,373.0 466.5,372.3 472.5,371.6 478.4,371.0 484.4,370.3 490.3,369.6 496.3,368.9 502.3,368.3 508.2,367.6 514.2,367.0 520.1,366.3 526.1,365.7 532.0,365.0 538.0,364.4 544.0,363.8 549.9,363.1 555.9,362.5 561.9,361.9 567.8,361.3 573.8,360.7 579.7,360.1 585.7,359.5 591.7,358.9 597.6,358.3 603.6,357.7 609.6,357.1 615.5,356.5 621.5,355.9 627.5,355.4 633.4,354.8 639.4,354.2 645.4,353.7 651.3,353.1 657.3,352.5 663.3,352.0 669.2,351.4 675.2,350.9 681.2,350.3 687.1,349.8 693.1,349.2 699.1,348.7 705.1,348.2 711.0,347.6 717.0,347.1 723.0,346.6 728.9,346.1 734.9,345.5 740.9,345.0 746.9,344.5 752.8,344.0 758.8,343.5 764.8,343.0 770.7,342.5 776.7,342.0 782.7,341.5 788.7,341.0 794.6,340.5 800.6,340.0 806.6,339.5 812.6,339.0 818.5,338.5 824.5,338.0 830.5,337.5 836.5,337.0 842.4,336.6 848.4,336.1 854.4,335.6 860.4,335.1 866.3,334.7 872.3,334.2 878.3,333.7 884.3,333.2 890.2,332.8 896.2,332.3 902.2,331.9 908.2,331.4 914.1,330.9 920.1,330.5 926.1,330.0 932.1,329.6 938.0,329.1 944.0,328.7 950.0,328.2 952.1,328.2 952.1,452.2 130.6,452.2" fill="#ffae5e" stroke="#ffae5e" stroke-width="0.6"/>
<polygon points="130.6,87.8 282.1,87.8 282.1,90.0 282.1,96.0 282.1,102.0 282.1,108.0 282.2,114.0 282.2,120.0 282.3,126.0 282.3,132.0 282.4,138.0 282.5,144.0 282.6,150.0 282.7,155.9 282.8,161.9 282.9,167.9 283.0,173.9 283.1,179.9 283.2,185.9 283.4,191.9 283.5,197.9 283.6,203.9 283.8,209.9 284.0,215.8 284.1,221.8 284.3,227.8 284.4,233.8 284.6,239.8 284.8,245.8 285.0,251.7 285.2,257.7 285.4,263.7 285.6,269.7 285.8,275.7 286.0,281.7 286.3,287.7 286.7,293.7 287.0,299.7 287.4,305.7 287.8,311.6 288.3,317.6 288.8,323.6 289.4,329.5 290.0,335.5 290.7,341.4 291.7,347.3 293.0,353.2 294.3,359.1 295.8,364.9 297.6,370.5 300.0,376.3 303.0,381.2 307.2,385.3 312.3,388.7 317.8,391.5 323.5,393.0 329.4,393.0 335.5,393.0 341.5,393.0 347.5,392.8 353.4,392.4 359.4,391.7 365.3,391.0 371.3,390.1 377.2,389.2 383.1,388.2 389.1,387.3 395.0,386.5 401.0,385.7 406.9,385.0 412.9,384.3 418.8,383.6 424.8,382.9 430.7,382.2 436.7,381.5 442.6,380.9 448.6,380.2 454.5,379.5 460.5,378.9 466.5,378.2 472.4,377.6 478.4,377.0 484.3,376.3 490.3,375.7 496.2,375.1 502.2,374.5 508.2,373.9 514.1,373.2 520.1,372.6 526.1,372.0 532.0,371.5 538.0,370.9 543.9,370.3 549.9,369.7 555.9,369.1 561.8,368.6 567.8,368.0 573.8,367.4 579.7,366.9 585.7,366.3 591.7,365.8 597.6,365.2 603.6,364.7 609.6,364.1 615.5,363.6 621.5,363.1 627.5,362.5 633.4,362.0 639.4,361.5 645.4,360.9 651.3,360.4 657.3,359.9 663.3,359.4 669.2,358.9 675.2,358.4 681.2,357.9 687.1,357.4 693.1,356.9 699.1,356.4 705.1,355.9 711.0,355.4 717.0,354.9 723.0,354.4 728.9,353.9 734.9,353.4 740.9,353.0 746.9,352.5 752.8,352.0 758.8,351.5 764.8,351.1 770.7,350.6 776.7,350.1 782.7,349.7 788.7,349.2 794.6,348.7 800.6,348.3 806.6,347.8 812.6,347.4 818.5,346.9 824.5,346.5 830.5,346.0 836.5,345.6 842.4,345.1 848.4,344.7 854.4,344.2 860.4,343.8 866.3,343.4 872.3,342.9 878.3,342.5 884.3,342.1 890.2,341.6 896.2,341.2 902.2,340.8 908.2,340.4 914.1,339.9 920.1,339.5 926.1,339.1 932.1,338.7 938.0,338.3 944.0,337.8 950.0,337.4 952.1,337.4 952.1,452.2 130.6,452.2" fill="#ff934d" stroke="#ff934d" stroke-width="0.6"/>
<polygon points="130.6,87.8 274.2,87.8 274.2,90.0 274.2,96.0 274.2,101.9 274.2,107.9 274.2,113.9 274.3,119.8 274.3,125.8 274.3,131.8 274.4,137.7 274.4,143.7 274.5,149.7 274.5,155.6 274.6,161.6 274.6,167.5 274.7,173.5 274.8,179.5 274.8,185.4 274.9,191.4 275.0,197.4 275.1,203.3 275.2,209.3 275.2,215.3 275.3,221.2 275.4,227.2 275.5,233.2 275.6,239.1 275.7,245.1 275.8,251.0 275.9,257.0 276.0,263.0 276.1,268.9 276.2,274.9 276.2,280.9 276.3,286.8 276.4,292.8 276.6,298.8 276.7,304.8 276.9,310.7 277.0,316.7 277.2,322.7 277.5,328.6 277.7,334.6 278.0,340.5 278.7,346.4 279.7,352.3 280.9,358.1 282.3,363.9 284.0,369.7 285.9,375.3 288.2,380.9 290.8,386.3 293.9,392.1 297.5,397.0 301.9,399.5 308.0,400.7 313.9,401.7 319.9,402.5 325.8,402.5 331.7,402.0 337.7,401.2 343.6,400.4 349.5,399.7 355.5,399.1 361.4,398.4 367.3,397.7 373.2,397.0 379.2,396.4 385.1,395.7 391.0,395.1 397.0,394.4 402.9,393.8 408.8,393.2 414.8,392.6 420.7,392.0 426.6,391.4 432.6,390.8 438.5,390.2 444.4,389.6 450.4,389.0 456.3,388.5 462.2,387.9 468.2,387.3 474.1,386.8 480.1,386.2 486.0,385.7 491.9,385.1 497.9,384.6 503.8,384.1 509.8,383.5 515.7,383.0 521.6,382.5 527.6,382.0 533.5,381.5 539.5,381.0 545.4,380.5 551.4,380.0 557.3,379.5 563.2,379.0 569.2,378.5 575.1,378.0 581.1,377.5 587.0,377.0 593.0,376.5 598.9,376.1 604.9,375.6 610.8,375.1 616.8,374.6 622.7,374.2 628.6,373.7 634.6,373.3 640.5,372.8 646.5,372.3 652.4,371.9 658.4,371.4 664.3,371.0 670.3,370.6 676.2,370.1 682.2,369.7 688.1,369.2 694.1,368.8 700.0,368.4 706.0,368.0 711.9,367.5 717.9,367.1 723.8,366.7 729.8,366.3 735.7,365.8 741.7,365.4 747.6,365.0 753.6,364.6 759.5,364.2 765.5,363.8 771.4,363.4 777.4,363.0 783.3,362.6 789.3,362.2 795.2,361.8 801.2,361.4 807.1,361.0 813.1,360.6 819.0,360.2 825.0,359.8 830.9,359.4 836.9,359.0 842.8,358.6 848.8,358.2 854.7,357.9 860.7,357.5 866.7,357.1 872.6,356.7 878.6,356.3 884.5,356.0 890.5,355.6 896.4,355.2 902.4,354.9 908.3,354.5 914.3,354.1 920.2,353.8 926.2,353.4 932.1,353.0 938.1,352.7 944.0,352.3 950.0,351.9 952.1,351.9 952.1,452.2 130.6,452.2" fill="#ff733b" stroke="#ff733b" stroke-width="0.6"/>
<polygon points="130.6,87.8 258.4,87.8 258.4,90.0 258.4,96.0 258.4,102.0 258.4,107.9 258.4,113.9 258.4,119.9 258.5,125.9 258.5,131.9 258.5,137.8 258.6,143.8 258.6,149.8 258.6,155.8 258.7,161.7 258.7,167.7 258.8,173.7 258.8,179.7 258.9,185.6 258.9,191.6 259.0,197.6 259.1,203.6 259.1,209.5 259.2,215.5 259.3,221.5 259.3,227.5 259.4,233.4 259.5,239.4 259.6,245.4 259.7,251.3 259.8,257.3 259.9,263.3 260.0,269.3 260.1,275.2 260.3,281.2 260.6,287.2 260.8,293.1 261.1,299.1 261.4,305.1 261.8,311.0 262.1,317.0 262.5,323.0 262.9,328.9 263.3,334.9 263.7,340.9 264.1,346.8 264.6,352.8 265.3,358.7 266.2,364.6 267.3,370.5 268.6,376.3 270.1,382.1 271.9,387.9 273.7,393.9 275.8,400.1 278.4,405.1 282.6,407.9 288.7,409.9 294.5,411.9 300.2,414.0 306.0,414.3 312.0,414.3 318.0,414.3 323.9,414.0 329.9,413.2 335.8,412.3 341.7,411.5 347.7,410.9 353.6,410.3 359.6,409.8 365.5,409.3 371.5,408.8 377.4,408.3 383.4,407.8 389.4,407.3 395.3,406.8 401.3,406.3 407.2,405.8 413.2,405.3 419.1,404.8 425.1,404.3 431.0,403.9 437.0,403.4 443.0,403.0 448.9,402.5 454.9,402.1 460.8,401.6 466.8,401.2 472.8,400.7 478.7,400.3 484.7,399.9 490.6,399.4 496.6,399.0 502.6,398.6 508.5,398.2 514.5,397.8 520.4,397.4 526.4,396.9 532.4,396.5 538.3,396.1 544.3,395.7 550.3,395.4 556.2,395.0 562.2,394.6 568.1,394.2 574.1,393.8 580.1,393.4 586.0,393.0 592.0,392.7 598.0,392.3 603.9,391.9 609.9,391.5 615.8,391.2 621.8,390.8 627.8,390.5 633.7,390.1 639.7,389.7 645.7,389.4 651.6,389.0 657.6,388.7 663.6,388.3 669.5,388.0 675.5,387.6 681.5,387.3 687.4,386.9 693.4,386.6 699.4,386.3 705.3,385.9 711.3,385.6 717.3,385.3 723.2,384.9 729.2,384.6 735.2,384.3 741.1,383.9 747.1,383.6 753.1,383.3 759.0,383.0 765.0,382.6 771.0,382.3 776.9,382.0 782.9,381.7 788.9,381.4 794.8,381.1 800.8,380.7 806.8,380.4 812.7,380.1 818.7,379.8 824.7,379.5 830.6,379.2 836.6,378.9 842.6,378.6 848.5,378.3 854.5,378.0 860.5,377.7 866.4,377.4 872.4,377.1 878.4,376.8 884.3,376.5 890.3,376.2 896.3,375.9 902.3,375.6 908.2,375.4 914.2,375.1 920.2,374.8 926.1,374.5 932.1,374.2 938.1,373.9 944.0,373.6 950.0,373.4 952.1,373.4 952.1,452.2 130.6,452.2" fill="#ff532a" stroke="#ff532a" stroke-width="0.6"/>
<polygon points="130.6,87.8 237.3,87.8 237.3,90.0 237.4,96.0 237.4,101.9 237.5,107.9 237.5,113.9 237.6,119.9 237.6,125.8 237.7,131.8 237.8,137.8 237.8,143.8 237.9,149.7 238.0,155.7 238.0,161.7 238.1,167.7 238.2,173.6 238.3,179.6 238.4,185.6 238.4,191.6 238.5,197.5 238.6,203.5 238.7,209.5 238.8,215.5 238.8,221.4 238.9,227.4 239.0,233.4 239.1,239.3 239.2,245.3 239.3,251.3 239.4,257.3 239.5,263.2 239.6,269.2 239.7,275.2 239.7,281.2 239.8,287.1 239.9,293.1 240.0,299.1 240.1,305.1 240.2,311.0 240.3,317.0 240.5,323.0 240.6,329.0 240.8,334.9 240.9,340.9 241.1,346.9 241.4,352.8 241.8,358.8 242.2,364.8 242.8,370.7 243.5,376.7 244.4,382.5 245.9,388.4 247.9,394.0 250.3,399.5 253.4,404.7 256.9,409.4 261.0,413.8 265.7,417.6 270.7,420.7 276.2,423.3 281.9,425.0 287.7,426.4 293.6,427.1 299.6,427.5 305.6,427.6 311.6,427.3 317.5,426.9 323.5,426.3 329.4,425.4 335.3,424.5 341.2,423.7 347.2,423.2 353.1,422.8 359.1,422.5 365.0,422.1 371.0,421.8 377.0,421.4 382.9,421.1 388.9,420.7 394.9,420.4 400.8,420.1 406.8,419.7 412.8,419.4 418.7,419.1 424.7,418.7 430.7,418.4 436.6,418.1 442.6,417.8 448.6,417.5 454.5,417.2 460.5,416.8 466.5,416.5 472.4,416.2 478.4,415.9 484.4,415.6 490.3,415.3 496.3,415.1 502.3,414.8 508.2,414.5 514.2,414.2 520.2,413.9 526.1,413.6 532.1,413.4 538.1,413.1 544.0,412.8 550.0,412.5 556.0,412.3 561.9,412.0 567.9,411.7 573.9,411.5 579.8,411.2 585.8,410.9 591.8,410.7 597.8,410.4 603.7,410.2 609.7,409.9 615.7,409.7 621.6,409.4 627.6,409.2 633.6,408.9 639.5,408.7 645.5,408.4 651.5,408.2 657.4,407.9 663.4,407.7 669.4,407.4 675.4,407.2 681.3,407.0 687.3,406.7 693.3,406.5 699.2,406.3 705.2,406.0 711.2,405.8 717.1,405.6 723.1,405.3 729.1,405.1 735.1,404.9 741.0,404.7 747.0,404.4 753.0,404.2 758.9,404.0 764.9,403.8 770.9,403.5 776.8,403.3 782.8,403.1 788.8,402.9 794.8,402.7 800.7,402.5 806.7,402.2 812.7,402.0 818.6,401.8 824.6,401.6 830.6,401.4 836.6,401.2 842.5,401.0 848.5,400.8 854.5,400.6 860.4,400.4 866.4,400.2 872.4,400.0 878.3,399.7 884.3,399.5 890.3,399.3 896.3,399.1 902.2,398.9 908.2,398.7 914.2,398.5 920.1,398.3 926.1,398.1 932.1,398.0 938.1,397.8 944.0,397.6 950.0,397.4 952.1,397.4 952.1,452.2 130.6,452.2" fill="#ff3219" stroke="#ff3219" stroke-width="0.6"/>
<polygon points="130.6,87.8 213.9,87.8 213.9,90.0 214.0,96.0 214.0,102.0 214.1,108.0 214.2,114.0 214.3,120.0 214.3,126.0 214.4,132.0 214.5,138.0 214.6,144.0 214.7,150.0 214.7,156.0 214.8,162.0 214.9,168.0 215.0,174.0 215.1,180.0 215.2,186.0 215.3,192.0 215.4,197.9 215.5,203.9 215.6,209.9 215.7,215.9 215.8,221.9 215.9,227.9 216.0,233.9 216.1,239.9 216.2,245.9 216.3,251.9 216.4,257.9 216.5,263.9 216.6,269.9 216.7,275.9 216.8,281.9 216.9,287.9 217.1,293.9 217.2,299.9 217.3,305.9 217.4,311.9 217.6,317.9 217.7,323.9 217.8,329.9 217.9,335.9 218.0,341.9 218.1,347.9 218.2,353.9 218.3,359.9 218.6,365.9 219.0,371.9 219.7,377.8 220.5,383.7 221.8,389.6 223.6,395.4 225.9,400.9 228.7,406.2 232.1,411.2 235.9,415.8 240.2,420.0 245.0,423.7 250.0,426.9 255.4,429.6 261.0,431.8 266.8,433.4 272.7,434.7 278.6,435.4 284.6,435.8 290.6,436.1 296.6,436.3 302.6,436.4 308.6,436.3 314.5,435.9 320.5,435.4 326.5,434.8 332.5,434.3 338.5,433.8 344.5,433.6 350.5,433.3 356.4,433.1 362.4,432.9 368.4,432.7 374.4,432.4 380.4,432.2 386.4,432.0 392.4,431.8 398.4,431.6 404.4,431.3 410.4,431.1 416.4,430.9 422.4,430.7 428.4,430.5 434.4,430.3 440.4,430.1 446.4,429.9 452.4,429.7 458.3,429.5 464.3,429.3 470.3,429.1 476.3,429.0 482.3,428.8 488.3,428.6 494.3,428.4 500.3,428.2 506.3,428.0 512.3,427.9 518.3,427.7 524.3,427.5 530.3,427.3 536.3,427.2 542.3,427.0 548.3,426.8 554.3,426.6 560.3,426.5 566.3,426.3 572.3,426.1 578.2,426.0 584.2,425.8 590.2,425.6 596.2,425.5 602.2,425.3 608.2,425.2 614.2,425.0 620.2,424.8 626.2,424.7 632.2,424.5 638.2,424.4 644.2,424.2 650.2,424.1 656.2,423.9 662.2,423.8 668.2,423.6 674.2,423.5 680.2,423.3 686.2,423.2 692.2,423.0 698.2,422.9 704.2,422.7 710.2,422.6 716.1,422.4 722.1,422.3 728.1,422.1 734.1,422.0 740.1,421.9 746.1,421.7 752.1,421.6 758.1,421.4 764.1,421.3 770.1,421.2 776.1,421.0 782.1,420.9 788.1,420.8 794.1,420.6 800.1,420.5 806.1,420.3 812.1,420.2 818.1,420.1 824.1,419.9 830.1,419.8 836.1,419.7 842.1,419.6 848.1,419.4 854.1,419.3 860.1,419.2 866.1,419.0 872.0,418.9 878.0,418.8 884.0,418.6 890.0,418.5 896.0,418.4 902.0,418.3 908.0,418.1 914.0,418.0 920.0,417.9 926.0,417.8 932.0,417.6 938.0,417.5 944.0,417.4 950.0,417.3 952.1,417.3 952.1,452.2 130.6,452.2" fill="#ff1008" stroke="#ff1008" stroke-width="0.6"/>
<polyline points="267.6,88.0 268.4,92.9 269.3,97.8 270.4,102.7 271.4,107.6 272.6,112.5 273.7,117.4 274.9,122.2 276.2,127.1 277.6,131.9 279.0,136.6 280.7,141.3 282.7,145.9 284.8,150.5 286.9,155.0 288.9,159.6 290.9,164.2 292.8,168.9 294.7,173.5 296.9,178.0 299.2,182.3 301.9,186.5 304.8,190.6 307.9,194.6 311.0,198.5 314.1,202.5 317.3,206.4 320.5,210.2 323.9,213.9 327.4,217.3 331.2,220.6 335.1,223.7 339.1,226.7 343.2,229.7 347.3,232.6 351.4,235.4 355.5,238.2 359.7,240.9 364.0,243.5 368.4,245.9 372.8,248.3 377.2,250.5 381.7,252.7 386.3,254.9 390.8,257.0 395.3,259.1 399.9,261.2 404.4,263.2 409.0,265.2 413.6,267.2 418.3,269.0 422.9,270.8 427.6,272.5 432.3,274.2 437.1,275.8 441.8,277.4 446.6,278.9 451.4,280.3 456.2,281.6 461.1,282.8 465.9,284.0 470.8,285.2 475.6,286.4 480.5,287.7 485.3,289.0 490.1,290.3 494.9,291.7 499.8,293.0 504.6,294.3 509.4,295.6 514.3,296.8 519.1,298.0 524.0,299.1 528.9,300.2 533.7,301.2 538.6,302.2 543.6,303.1 548.5,304.0 553.4,304.9 558.3,305.8 563.3,306.6 568.2,307.4 573.1,308.2 578.1,309.0 583.0,309.8 588.0,310.5 592.9,311.2 597.9,311.9 602.8,312.5 607.8,313.1 612.7,313.8 617.7,314.4 622.7,315.0 627.6,315.6 632.6,316.2 637.5,316.9 642.5,317.5 647.5,318.1 652.4,318.8 657.4,319.4 662.3,320.1 667.3,320.7 672.2,321.3 677.2,321.9 682.2,322.4 687.2,323.0 692.1,323.5 697.1,324.0 702.1,324.5 707.0,325.1 712.0,325.7 716.9,326.4 721.9,327.1 726.9,327.7 731.8,328.4 736.8,329.0 741.7,329.7 746.7,330.3 751.7,330.9 756.6,331.4 761.6,332.0 766.6,332.4 771.5,332.9 776.5,333.4 781.5,333.9 786.5,334.3 791.4,334.7 796.4,335.2 801.4,335.6 806.4,336.0 811.4,336.4 816.4,336.8 821.3,337.2 826.3,337.6 831.3,338.0 836.3,338.3 841.3,338.7 846.3,339.1 851.3,339.4 856.2,339.8 861.2,340.2 866.2,340.5 871.2,340.9 876.2,341.3 881.2,341.6 886.2,342.0 891.1,342.3 896.1,342.7 901.1,343.0 906.1,343.4 911.1,343.7 916.1,344.0 921.1,344.4 926.1,344.7 931.0,345.0 936.0,345.4 941.0,345.7 946.0,346.0 951.0,346.3" fill="none" stroke="#000" stroke-width="3.2" stroke-dasharray="11.8 5.1"/>
<polyline points="246.1,88.0 247.0,92.9 247.8,97.8 248.5,102.8 249.2,107.7 249.9,112.7 250.7,117.6 251.5,122.6 252.4,127.5 253.2,132.4 254.1,137.3 254.9,142.3 255.8,147.2 256.6,152.1 257.4,157.1 258.3,162.0 259.3,166.9 260.4,171.7 261.6,176.6 262.9,181.4 264.2,186.3 265.6,191.1 267.1,195.8 268.6,200.6 270.3,205.3 271.9,210.0 273.6,214.7 275.2,219.5 276.9,224.2 278.8,228.8 280.9,233.3 283.2,237.8 285.6,242.2 288.2,246.4 291.1,250.5 294.2,254.5 297.4,258.3 300.8,261.9 304.3,265.5 308.0,268.9 311.7,272.3 315.6,275.5 319.5,278.6 323.5,281.5 327.7,284.3 331.9,287.0 336.2,289.6 340.5,292.2 344.8,294.6 349.2,297.0 353.7,299.3 358.2,301.5 362.7,303.4 367.4,305.3 372.1,307.1 376.8,308.7 381.5,310.4 386.2,312.0 391.0,313.6 395.7,315.2 400.5,316.6 405.3,318.0 410.1,319.3 415.0,320.5 419.9,321.6 424.7,322.7 429.6,323.9 434.5,325.1 439.3,326.5 444.1,327.8 448.9,329.0 453.8,330.1 458.7,331.1 463.6,332.2 468.5,333.1 473.4,334.1 478.3,335.0 483.2,335.9 488.2,336.8 493.1,337.7 498.0,338.5 502.9,339.4 507.9,340.2 512.8,341.0 517.7,341.8 522.7,342.5 527.6,343.3 532.6,344.0 537.5,344.6 542.5,345.3 547.4,345.9 552.4,346.5 557.4,347.1 562.3,347.7 567.3,348.3 572.2,348.8 577.2,349.4 582.2,349.9 587.2,350.4 592.1,351.0 597.1,351.5 602.1,352.0 607.0,352.5 612.0,353.0 617.0,353.6 622.0,354.1 626.9,354.6 631.9,355.1 636.9,355.7 641.9,356.2 646.8,356.7 651.8,357.3 656.8,357.9 661.7,358.4 666.7,359.0 671.7,359.5 676.6,360.1 681.6,360.6 686.6,361.1 691.5,361.6 696.5,362.1 701.5,362.5 706.5,363.0 711.5,363.4 716.4,363.9 721.4,364.3 726.4,364.7 731.4,365.1 736.4,365.5 741.4,365.9 746.3,366.2 751.3,366.6 756.3,366.9 761.3,367.2 766.3,367.5 771.3,367.7 776.3,368.0 781.3,368.2 786.3,368.5 791.2,368.7 796.2,368.9 801.2,369.2 806.2,369.4 811.2,369.6 816.2,369.8 821.2,370.0 826.2,370.2 831.2,370.4 836.2,370.6 841.2,370.8 846.2,371.0 851.2,371.3 856.2,371.5 861.2,371.7 866.2,372.0 871.2,372.2 876.1,372.5 881.1,372.7 886.1,373.0 891.1,373.3 896.1,373.5 901.1,373.8 906.1,374.1 911.1,374.4 916.1,374.6 921.1,374.9 926.1,375.2 931.0,375.5 936.0,375.8 941.0,376.1 946.0,376.4 951.0,376.7" fill="none" stroke="#000" stroke-width="3.2" stroke-dasharray="20.5 5.1 3.2 5.1"/>
</g>
<circle cx="405.2" cy="318" r="7.6"/><circle cx="468.1" cy="284.5" r="7.6"/>
<text x="491.5" y="274.7" font-size="36" textLength="67" lengthAdjust="spacingAndGlyphs">(m2)</text>
<text x="365.7" y="351" font-size="36" textLength="67.5" lengthAdjust="spacingAndGlyphs">(m1)</text>
<text x="741.4" y="316.9" font-size="37" font-style="italic" fill="#000">η</text>
<text x="770.9" y="316.4" font-size="36" textLength="27" lengthAdjust="spacingAndGlyphs" fill="#000">=</text>
<text x="807.7" y="316.9" font-size="36" fill="#000">1</text>
<text x="826.9" y="325.4" font-size="52" fill="#000">/</text>
<text x="842.4" y="316.9" font-size="36" textLength="52.5" lengthAdjust="spacingAndGlyphs" fill="#000">100</text>
<text x="741.4" y="402.7" font-size="37" font-style="italic" fill="#000">η</text>
<text x="770.9" y="402.2" font-size="36" textLength="27" lengthAdjust="spacingAndGlyphs" fill="#000">=</text>
<text x="807.7" y="402.7" font-size="36" fill="#000">1</text>
<text x="826.9" y="411.2" font-size="52" fill="#000">/</text>
<text x="842.4" y="402.7" font-size="36" textLength="52.5" lengthAdjust="spacingAndGlyphs" fill="#000">200</text>
<path d="M132.0,89.8 H951.0 M132.0,450.2 H951.0 M132.6,89.8 V450.2" stroke="#000" stroke-width="1.3" fill="none"/>
<path d="M950.1,89.2 V450.8" stroke="#000" stroke-width="1.8" fill="none"/>
<path d="M132.0,455.1 H951.0 M132.0,877.5 H951.0 M132.6,455.1 V877.5" stroke="#000" stroke-width="1.3" fill="none"/>
<path d="M950.1,454.5 V878.1" stroke="#000" stroke-width="1.8" fill="none"/>
<path d="M132.6,450.2 v-13.0 M342.1,450.2 v-13.0 M551.6,450.2 v-13.0 M761.1,450.2 v-13.0 M132.6,450.2 h13.0 M132.6,360.1 h13.0 M132.6,270.0 h13.0 M132.6,179.9 h13.0 M132.6,89.8 h13.0 M132.6,877.5 v-13.0 M132.6,455.1 v13.0 M342.1,877.5 v-13.0 M342.1,455.1 v13.0 M551.6,877.5 v-13.0 M551.6,455.1 v13.0 M761.1,877.5 v-13.0 M761.1,455.1 v13.0 M132.6,529.8 h13.0 M132.6,686.3 h13.0 M132.6,842.8 h13.0" stroke="#000" stroke-width="2.7" fill="none"/>
<path d="M237.3,450.2 v-6.3 M446.9,450.2 v-6.3 M656.4,450.2 v-6.3 M865.9,450.2 v-6.3 M132.6,405.1 h6.3 M132.6,315.0 h6.3 M132.6,224.9 h6.3 M132.6,134.9 h6.3 M237.3,877.5 v-6.3 M446.9,877.5 v-6.3 M656.4,877.5 v-6.3 M865.9,877.5 v-6.3 M132.6,482.7 h6.3 M132.6,639.2 h6.3 M132.6,611.6 h6.3 M132.6,592.1 h6.3 M132.6,576.9 h6.3 M132.6,564.5 h6.3 M132.6,554.0 h6.3 M132.6,545.0 h6.3 M132.6,537.0 h6.3 M132.6,795.7 h6.3 M132.6,768.1 h6.3 M132.6,748.6 h6.3 M132.6,733.4 h6.3 M132.6,721.0 h6.3 M132.6,710.5 h6.3 M132.6,701.5 h6.3 M132.6,693.5 h6.3 M132.6,867.0 h6.3 M132.6,858.0 h6.3 M132.6,850.0 h6.3" stroke="#000" stroke-width="1.4" fill="none"/>
<text x="65.3" y="103.0" font-size="35.5" textLength="59.0" lengthAdjust="spacingAndGlyphs">10.0</text>
<text x="81.3" y="193.1" font-size="35.5" textLength="43.0" lengthAdjust="spacingAndGlyphs">7.5</text>
<text x="81.3" y="283.2" font-size="35.5" textLength="43.0" lengthAdjust="spacingAndGlyphs">5.0</text>
<text x="81.3" y="373.3" font-size="35.5" textLength="43.0" lengthAdjust="spacingAndGlyphs">2.5</text>
<text x="81.3" y="463.4" font-size="35.5" textLength="43.0" lengthAdjust="spacingAndGlyphs">0.0</text>
<text x="59.3" y="543.1" font-size="35.5" textLength="30" lengthAdjust="spacingAndGlyphs">10</text>
<text x="91" y="529.1" font-size="25.5" textLength="31.5" lengthAdjust="spacingAndGlyphs">−1</text>
<text x="59.3" y="699.6" font-size="35.5" textLength="30" lengthAdjust="spacingAndGlyphs">10</text>
<text x="91" y="685.6" font-size="25.5" textLength="31.5" lengthAdjust="spacingAndGlyphs">−2</text>
<text x="59.3" y="856.1" font-size="35.5" textLength="30" lengthAdjust="spacingAndGlyphs">10</text>
<text x="91" y="842.1" font-size="25.5" textLength="31.5" lengthAdjust="spacingAndGlyphs">−3</text>
<text x="132.9" y="911" font-size="35.5" text-anchor="middle">0</text>
<text x="342.4" y="911" font-size="35.5" text-anchor="middle">2</text>
<text x="551.9" y="911" font-size="35.5" text-anchor="middle">4</text>
<text x="761.4" y="911" font-size="35.5" text-anchor="middle">6</text>
<g transform="translate(41.3,327.6) rotate(-90)"><text x="-1" y="0" font-size="54" font-style="italic" textLength="58" lengthAdjust="spacingAndGlyphs">δω</text><text x="62" y="12" font-size="78">/</text><text x="87.5" y="0" font-size="54" textLength="30" lengthAdjust="spacingAndGlyphs">Γ</text></g>
<text transform="translate(37.5,703) rotate(-90)" font-size="54" font-style="italic" textLength="37" lengthAdjust="spacingAndGlyphs">P</text>
<text transform="translate(47.1,670) rotate(-90)" font-size="38" textLength="40.5" lengthAdjust="spacingAndGlyphs">err</text>
<text x="501.5" y="968.4" font-size="54" font-style="italic">ϵ</text><text x="525.5" y="980.4" font-size="78">/</text><text x="551" y="968.4" font-size="54" textLength="31" lengthAdjust="spacingAndGlyphs">Γ</text>
<text x="0.5" y="122.3" font-size="44" font-weight="bold" textLength="51" lengthAdjust="spacingAndGlyphs">(a)</text>
<text x="0.5" y="498.1" font-size="44" font-weight="bold" textLength="54.5" lengthAdjust="spacingAndGlyphs">(b)</text>
<g clip-path="url(#cb)">
<polyline points="245.5,424.9 248.5,432.5 251.5,440.3 254.5,448.2 257.5,456.3 260.5,464.4 263.5,472.7 266.5,481.0 269.5,489.5 272.5,497.9 275.5,506.5 278.5,515.1 281.5,523.7 284.5,532.3 287.5,541.0 290.5,549.6 293.5,558.2 296.5,566.8 299.5,575.3 302.5,583.8 305.5,592.2 308.5,600.5 311.5,608.7 314.5,616.9 317.5,624.9 320.5,632.7 323.5,640.4 326.5,648.0 329.5,655.4 332.5,662.6 335.5,669.6 338.5,676.5 341.5,683.1 344.5,689.5 347.5,695.7 350.5,701.7 353.5,707.5 356.5,713.1 359.5,718.5 362.5,723.8 365.5,728.8 368.5,733.7 371.5,738.4 374.5,742.9 377.5,747.2 380.5,751.3 383.5,755.3 386.5,759.1 389.5,762.8 392.5,766.3 395.5,769.6 398.5,772.8 401.5,775.8 404.5,778.6 407.5,781.3 410.5,783.9 413.5,786.3 416.5,788.6 419.5,790.7 422.5,792.7 425.5,794.5 428.5,796.2 431.5,797.8 434.5,799.2 437.5,800.4 440.5,801.6 443.5,802.6 446.5,803.4 449.5,804.1 452.5,804.7 455.5,805.2 458.5,805.5 461.5,805.7 464.5,805.8 467.5,805.7 470.5,805.5 473.5,805.2 476.5,804.8 479.5,804.2 482.5,803.5 485.5,802.7 488.5,801.8 491.5,800.7 494.5,799.5 497.5,798.3 500.5,796.9 503.5,795.3 506.5,793.7 509.5,791.9 512.5,790.1 515.5,788.1 518.5,786.0 521.5,783.8 524.5,781.6 527.5,779.2 530.5,776.7 533.5,774.1 536.5,771.4 539.5,768.6 542.5,765.8 545.5,762.9 548.5,759.9 551.5,756.8 554.5,753.6 557.5,750.4 560.5,747.2 563.5,743.8 566.5,740.5 569.5,737.0 572.5,733.6 575.5,730.1 578.5,726.5 581.5,722.9 584.5,719.3 587.5,715.7 590.5,712.0 593.5,708.3 596.5,704.6 599.5,700.9 602.5,697.2 605.5,693.5 608.5,689.8 611.5,686.0 614.5,682.3 617.5,678.6 620.5,674.9 623.5,671.3 626.5,667.6 629.5,664.0 632.5,660.4 635.5,656.9 638.5,653.3 641.5,649.9 644.5,646.4 647.5,643.0 650.5,639.7 653.5,636.4 656.5,633.2 659.5,630.0 662.5,626.9 665.5,623.9 668.5,621.0 671.5,618.0 674.5,615.2 677.5,612.4 680.5,609.7 683.5,607.0 686.5,604.4 689.5,601.9 692.5,599.4 695.5,596.9 698.5,594.5 701.5,592.2 704.5,589.9 707.5,587.7 710.5,585.5 713.5,583.3 716.5,581.2 719.5,579.2 722.5,577.1 725.5,575.2 728.5,573.2 731.5,571.3 734.5,569.5 737.5,567.7 740.5,565.9 743.5,564.1 746.5,562.4 749.5,560.8 752.5,559.1 755.5,557.5 758.5,555.9 761.5,554.3 764.5,552.8 767.5,551.3 770.5,549.8 773.5,548.4 776.5,547.0 779.5,545.5 782.5,544.2 785.5,542.8 788.5,541.4 791.5,540.1 794.5,538.8 797.5,537.5 800.5,536.2 803.5,534.9 806.5,533.7 809.5,532.4 812.5,531.2 815.5,530.0 818.5,528.8 821.5,527.6 824.5,526.4 827.5,525.2 830.5,524.1 833.5,523.0 836.5,521.9 839.5,520.8 842.5,519.7 845.5,518.6 848.5,517.5 851.5,516.5 854.5,515.5 857.5,514.5 860.5,513.5 863.5,512.5 866.5,511.5 869.5,510.6 872.5,509.7 875.5,508.8 878.5,507.9 881.5,507.0 884.5,506.2 887.5,505.3 890.5,504.5 893.5,503.7 896.5,502.9 899.5,502.1 902.5,501.4 905.5,500.7 908.5,500.0 911.5,499.3 914.5,498.6 917.5,497.9 920.5,497.3 923.5,496.7 926.5,496.1 929.5,495.5 932.5,495.0 935.5,494.4 938.5,493.9 941.5,493.4 944.5,493.0 947.5,492.5 950.5,492.1 952.0,491.9" fill="none" stroke="#0000ff" stroke-width="5" stroke-linejoin="round"/>
<polyline points="246.0,423.3 249.0,431.6 252.0,439.9 255.0,448.3 258.0,456.7 261.0,465.2 264.0,473.6 267.0,482.1 270.0,490.5 273.0,499.0 276.0,507.4 279.0,515.7 282.0,524.0 285.0,532.2 288.0,540.4 291.0,548.4 294.0,556.4 297.0,564.2 300.0,572.0 303.0,579.5 306.0,587.0 309.0,594.2 312.0,601.3 315.0,608.2 318.0,615.0 321.0,621.5 324.0,627.8 327.0,633.8 330.0,639.7 333.0,645.3 336.0,650.7 339.0,655.9 342.0,660.9 345.0,665.6 348.0,670.1 351.0,674.4 354.0,678.5 357.0,682.4 360.0,686.0 363.0,689.5 366.0,692.7 369.0,695.7 372.0,698.5 375.0,701.0 378.0,703.4 381.0,705.5 384.0,707.4 387.0,709.1 390.0,710.6 393.0,711.9 396.0,713.0 399.0,713.8 402.0,714.5 405.0,715.0 408.0,715.2 411.0,715.3 414.0,715.2 417.0,714.9 420.0,714.4 423.0,713.8 426.0,713.0 429.0,712.0 432.0,710.9 435.0,709.7 438.0,708.3 441.0,706.7 444.0,705.1 447.0,703.3 450.0,701.3 453.0,699.3 456.0,697.1 459.0,694.8 462.0,692.5 465.0,690.0 468.0,687.4 471.0,684.7 474.0,682.0 477.0,679.1 480.0,676.2 483.0,673.2 486.0,670.1 489.0,667.0 492.0,663.7 495.0,660.5 498.0,657.1 501.0,653.7 504.0,650.3 507.0,646.8 510.0,643.3 513.0,639.8 516.0,636.2 519.0,632.6 522.0,629.0 525.0,625.4 528.0,621.8 531.0,618.2 534.0,614.5 537.0,610.9 540.0,607.3 543.0,603.8 546.0,600.2 549.0,596.7 552.0,593.2 555.0,589.7 558.0,586.3 561.0,582.9 564.0,579.6 567.0,576.3 570.0,573.1 573.0,569.9 576.0,566.9 579.0,563.9 582.0,560.9 585.0,558.1 588.0,555.4 591.0,552.7 594.0,550.1 597.0,547.7 600.0,545.3 603.0,543.0 606.0,540.8 609.0,538.7 612.0,536.7 615.0,534.7 618.0,532.8 621.0,531.0 624.0,529.2 627.0,527.5 630.0,525.8 633.0,524.2 636.0,522.7 639.0,521.2 642.0,519.7 645.0,518.3 648.0,516.9 651.0,515.5 654.0,514.2 657.0,512.9 660.0,511.6 663.0,510.3 666.0,509.1 669.0,507.9 672.0,506.6 675.0,505.5 678.0,504.3 681.0,503.1 684.0,502.0 687.0,500.9 690.0,499.8 693.0,498.7 696.0,497.6 699.0,496.6 702.0,495.5 705.0,494.5 708.0,493.5 711.0,492.5 714.0,491.6 717.0,490.6 720.0,489.7 723.0,488.7 726.0,487.8 729.0,486.9 732.0,486.1 735.0,485.2 738.0,484.3 741.0,483.5 744.0,482.7 747.0,481.9 750.0,481.1 753.0,480.3 756.0,479.5 759.0,478.8 762.0,478.0 765.0,477.3 768.0,476.6 771.0,475.8 774.0,475.1 777.0,474.5 780.0,473.8 783.0,473.1 786.0,472.5 789.0,471.8 792.0,471.2 795.0,470.6 798.0,470.0 801.0,469.4 804.0,468.8 807.0,468.2 810.0,467.6 813.0,467.0 816.0,466.5 819.0,465.9 822.0,465.4 825.0,464.9 828.0,464.3 831.0,463.8 834.0,463.3 837.0,462.8 840.0,462.3 843.0,461.8 846.0,461.3 849.0,460.9 852.0,460.4 855.0,459.9 858.0,459.5 861.0,459.0 864.0,458.6 867.0,458.2 870.0,457.7 873.0,457.3 876.0,456.9 879.0,456.4 882.0,456.0 885.0,455.6 888.0,455.2 891.0,454.8 894.0,454.4 897.0,454.0 900.0,453.6 903.0,453.2 906.0,452.8 909.0,452.4 912.0,452.1 915.0,451.7 918.0,451.3 921.0,450.9 924.0,450.5 927.0,450.2 930.0,449.8" fill="none" stroke="#ff0000" stroke-width="5" stroke-linejoin="round"/>
</g>
<path d="M404.9,877.5 V455.1" stroke="#000" stroke-width="3.3" stroke-dasharray="21.1 5.3 3.3 5.3" fill="none"/>
<path d="M468.1,877.5 V455.1" stroke="#000" stroke-width="3.3" stroke-dasharray="12.2 5.3" fill="none"/>
<text x="323.1" y="553.3" font-size="36" textLength="69" lengthAdjust="spacingAndGlyphs">(m1)</text>
<text x="485.9" y="553.3" font-size="36" textLength="68.5" lengthAdjust="spacingAndGlyphs">(m2)</text>
<text x="531.1" y="494.3" font-size="37" font-style="italic" fill="#ff0000">η</text>
<text x="560.6" y="493.8" font-size="36" textLength="27" lengthAdjust="spacingAndGlyphs" fill="#ff0000">=</text>
<text x="597.4" y="494.3" font-size="36" fill="#ff0000">1</text>
<text x="616.6" y="502.8" font-size="52" fill="#ff0000">/</text>
<text x="632.1" y="494.3" font-size="36" textLength="52.5" lengthAdjust="spacingAndGlyphs" fill="#ff0000">200</text>
<text x="751.3" y="592.7" font-size="37" font-style="italic" fill="#0000ff">η</text>
<text x="780.8" y="592.2" font-size="36" textLength="27" lengthAdjust="spacingAndGlyphs" fill="#0000ff">=</text>
<text x="817.6" y="592.7" font-size="36" fill="#0000ff">1</text>
<text x="836.8" y="601.2" font-size="52" fill="#0000ff">/</text>
<text x="852.3" y="592.7" font-size="36" textLength="52.5" lengthAdjust="spacingAndGlyphs" fill="#0000ff">100</text>
<rect x="650.9" y="661.6" width="294.1" height="164.1" fill="#fff" stroke="#000" stroke-width="1.3"/>
<polyline points="664.0,819.2 666.0,819.0 668.0,818.7 670.0,818.2 672.0,817.5 674.0,816.8 676.0,815.9 678.0,815.1 680.0,814.0 682.0,812.5 684.0,810.9 686.0,808.9 688.0,806.5 690.0,803.5 692.0,800.3 694.0,796.6 696.0,792.3 698.0,787.6 700.0,782.5 702.0,777.1 704.0,771.1 706.0,764.8 708.0,758.5 710.0,752.1 712.0,745.4 714.0,738.9 716.0,732.6 718.0,726.3 720.0,720.2 722.0,714.4 724.0,709.1 726.0,703.9 728.0,699.7 730.0,696.9 732.0,694.7 734.0,693.3 736.0,692.5 738.0,691.9 740.0,691.6 742.0,691.7 744.0,692.0 746.0,692.2 748.0,692.4 750.0,692.6 752.0,692.7 754.0,692.7 756.0,692.1 758.0,691.0 760.0,689.8 762.0,688.6 764.0,687.2 766.0,685.6 768.0,684.0 770.0,682.3 772.0,680.5 774.0,678.7 776.0,677.2 778.0,675.9 780.0,674.6 782.0,673.6 784.0,672.9 786.0,672.3 788.0,671.9 790.0,671.6 792.0,671.5 794.0,671.5 796.0,671.5 798.0,671.5 800.0,671.6 802.0,671.9 804.0,672.3 806.0,672.6 808.0,672.9 810.0,673.1 812.0,673.3 814.0,673.4 816.0,673.3 818.0,673.1 820.0,672.9 822.0,672.6 824.0,672.2 826.0,671.8 828.0,671.4 830.0,670.9 832.0,670.5 834.0,670.2 836.0,669.8 838.0,669.5 840.0,669.2 842.0,669.0 844.0,668.9 846.0,668.9 848.0,668.9 850.0,668.9 852.0,668.9 854.0,668.9 856.0,668.9 858.0,668.9 860.0,669.0 862.0,669.1 864.0,669.3 866.0,669.4 868.0,669.5 870.0,669.6 872.0,669.6 874.0,669.6 876.0,669.5 878.0,669.5 880.0,669.4 882.0,669.4 884.0,669.3 886.0,669.2 888.0,669.2 890.0,669.1 892.0,669.1 894.0,669.0 896.0,668.9 898.0,668.9 900.0,668.9 902.0,668.9 904.0,668.9 906.0,668.9 908.0,668.9 910.0,668.9 912.0,668.9 914.0,668.9 916.0,668.9 918.0,668.9 920.0,668.9 922.0,668.9 924.0,669.0 926.0,669.0 928.0,669.1 930.0,669.1 932.0,669.2 932.8,669.2" fill="none" stroke="#006400" stroke-width="2.7" stroke-linejoin="round"/>
<polyline points="664.0,819.2 666.0,818.5 668.0,817.8 670.0,817.1 672.0,816.4 674.0,815.6 676.0,814.7 678.0,814.1 680.0,813.8 682.0,813.7 684.0,813.6 686.0,813.5 688.0,813.6 690.0,813.8 692.0,814.2 694.0,814.6 696.0,815.0 698.0,815.2 700.0,815.5 702.0,815.8 704.0,816.0 706.0,816.1 708.0,816.2 710.0,816.1 712.0,815.9 714.0,815.8 716.0,815.6 718.0,815.4 720.0,815.4 722.0,815.3 724.0,815.2 726.0,815.2 728.0,815.1 730.0,815.1 732.0,815.0 734.0,815.0 736.0,815.0 738.0,815.0 740.0,815.1 742.0,815.1 744.0,815.1 746.0,815.2 748.0,815.2 750.0,815.3 752.0,815.3 754.0,815.3 756.0,815.4 758.0,815.4 760.0,815.4 762.0,815.4 764.0,815.4 766.0,815.4 768.0,815.4 770.0,815.4 772.0,815.4 774.0,815.4 776.0,815.4 778.0,815.4 780.0,815.4 782.0,815.4 784.0,815.4 786.0,815.4 788.0,815.4 790.0,815.4 792.0,815.4 794.0,815.4 796.0,815.4 798.0,815.4 800.0,815.4 802.0,815.4 804.0,815.4 806.0,815.4 808.0,815.4 810.0,815.4 812.0,815.4 814.0,815.4 816.0,815.4 818.0,815.4 820.0,815.4 822.0,815.4 824.0,815.4 826.0,815.4 828.0,815.4 830.0,815.4 832.0,815.4 834.0,815.4 836.0,815.4 838.0,815.4 840.0,815.4 842.0,815.4 844.0,815.4 846.0,815.4 848.0,815.4 850.0,815.4 852.0,815.4 854.0,815.4 856.0,815.4 858.0,815.4 860.0,815.4 862.0,815.4 864.0,815.4 866.0,815.4 868.0,815.4 870.0,815.4 872.0,815.4 874.0,815.4 876.0,815.4 878.0,815.4 880.0,815.4 882.0,815.4 884.0,815.4 886.0,815.4 888.0,815.4 890.0,815.4 892.0,815.4 894.0,815.4 896.0,815.4 898.0,815.4 900.0,815.4 902.0,815.4 904.0,815.4 906.0,815.4 908.0,815.4 910.0,815.4 912.0,815.4 914.0,815.4 916.0,815.4 918.0,815.4 920.0,815.4 922.0,815.4 924.0,815.4 926.0,815.4 928.0,815.4 930.0,815.4 932.0,815.4 932.8,815.4" fill="none" stroke="#ff8c00" stroke-width="2.7" stroke-linejoin="round"/>
<path d="M650.9,701.2 h12.8 M650.9,819.4 h12.8 M664,825.7 v-12.8 M932.8,825.7 v-12.8" stroke="#000" stroke-width="2.7" fill="none"/>
<path d="M650.9,760.6 h6.5 M798.4,825.7 v-6.5" stroke="#000" stroke-width="1.4" fill="none"/>
<text x="613.5" y="712.2" font-size="31.5" textLength="29" lengthAdjust="spacingAndGlyphs">30</text>
<text x="628.5" y="830.5" font-size="31.5">0</text>
<text x="664.5" y="854.7" font-size="31" text-anchor="middle">0</text>
<text x="916.8" y="854.7" font-size="31" textLength="30" lengthAdjust="spacingAndGlyphs">20</text>
<text x="781" y="870.3" font-size="37">Γ<tspan font-style="italic">t</tspan></text>
<text x="865.6" y="705.4" font-size="34" fill="#006400">|<tspan font-style="italic" dx="2">g</tspan><tspan font-family="DejaVu Math TeX Gyre, DejaVu Serif, serif" dx="1">⟩</tspan></text>
<text x="865.6" y="797" font-size="34" fill="#ff8c00">|<tspan font-style="italic" dx="2.5">e</tspan><tspan font-family="DejaVu Math TeX Gyre, DejaVu Serif, serif" dx="1.5">⟩</tspan></text>
<g transform="translate(620.3,778.5) rotate(-90)" font-size="42"><text x="0" y="0" font-family="DejaVu Math TeX Gyre, DejaVu Serif, serif">⟨</text><text x="14.5" y="0" font-style="italic">x̂</text><text x="36" y="-14.5" font-size="27.5">2</text><text x="36" y="13" font-size="29" font-style="italic">φ</text><text x="53" y="0" font-family="DejaVu Math TeX Gyre, DejaVu Serif, serif">⟩</text></g>
</svg>
</body></html>
